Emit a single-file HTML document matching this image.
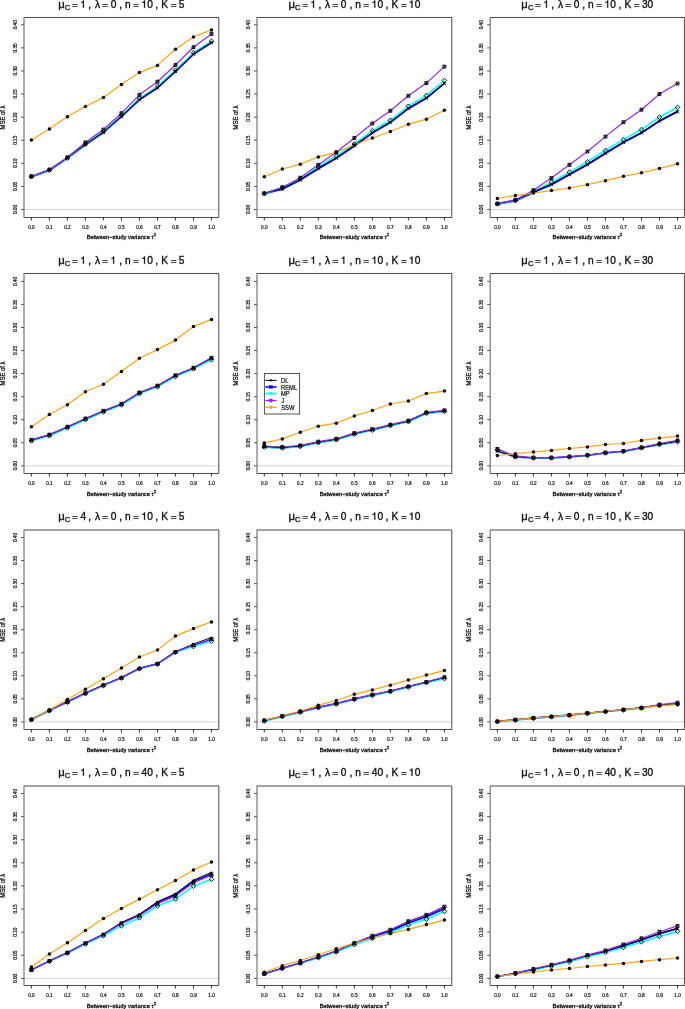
<!DOCTYPE html>
<html><head><meta charset="utf-8"><title>MSE of lambda</title>
<style>
html,body{margin:0;padding:0;background:#fff;}
svg{display:block;will-change:transform;}
text{font-family:"Liberation Sans", sans-serif;fill:#111;stroke:#111;stroke-width:0.2px;}
.xl{font-size:4.7px;text-anchor:middle;stroke-width:0.2px;}
.yl{font-size:4.7px;text-anchor:middle;stroke-width:0.2px;}
.xt{font-size:5.8px;text-anchor:middle;stroke-width:0.3px;}
.yt{font-size:5.9px;text-anchor:middle;stroke-width:0.25px;}
.lg{font-size:5.8px;}
</style></head>
<body>
<svg width="685" height="1009" viewBox="0 0 685 1009">
<rect width="685" height="1009" fill="#fff"/>
<line x1="24" y1="209.5" x2="218.8" y2="209.5" stroke="#d0d0dc" stroke-width="1"/>
<polyline points="31.4,176.9 49.41,170.5 67.42,158.4 85.43,144.8 103.44,132.5 121.45,116.7 139.46,99.9 157.47,88 175.48,71.6 193.49,54.3 211.5,42.8" fill="none" stroke="#0000ff" stroke-width="1.6" stroke-linejoin="round"/>
<polyline points="31.4,176.7 49.41,170.2 67.42,158 85.43,144 103.44,131.5 121.45,115.5 139.46,98.3 157.47,86.4 175.48,70.2 193.49,52.7 211.5,41.2" fill="none" stroke="#00ffff" stroke-width="1.6" stroke-linejoin="round"/>
<polyline points="31.4,176.3 49.41,169.9 67.42,157.8 85.43,144.2 103.44,131.9 121.45,116.1 139.46,99.3 157.47,87.4 175.48,71 193.49,53.7 211.5,42.2" fill="none" stroke="#000000" stroke-width="1.0" stroke-linejoin="round"/>
<polyline points="31.4,176.2 49.41,169.5 67.42,157.3 85.43,142.4 103.44,129.5 121.45,113.2 139.46,94.8 157.47,81.7 175.48,65 193.49,47.2 211.5,33.9" fill="none" stroke="#a020f0" stroke-width="1.2" stroke-linejoin="round"/>
<polyline points="31.4,140 49.41,129.1 67.42,116.8 85.43,106.5 103.44,97.4 121.45,84.5 139.46,72.6 157.47,65.4 175.48,49.3 193.49,37 211.5,29.9" fill="none" stroke="#ffa500" stroke-width="1.2" stroke-linejoin="round"/>
<path d="M29.9 175.4L32.9 178.4M32.9 175.4L29.9 178.4" stroke="#000" stroke-width="1.0"/>
<path d="M47.91 169L50.91 172M50.91 169L47.91 172" stroke="#000" stroke-width="1.0"/>
<path d="M65.92 156.9L68.92 159.9M68.92 156.9L65.92 159.9" stroke="#000" stroke-width="1.0"/>
<path d="M83.93 143.3L86.93 146.3M86.93 143.3L83.93 146.3" stroke="#000" stroke-width="1.0"/>
<path d="M101.94 131L104.94 134M104.94 131L101.94 134" stroke="#000" stroke-width="1.0"/>
<path d="M119.95 115.2L122.95 118.2M122.95 115.2L119.95 118.2" stroke="#000" stroke-width="1.0"/>
<path d="M137.96 98.4L140.96 101.4M140.96 98.4L137.96 101.4" stroke="#000" stroke-width="1.0"/>
<path d="M155.97 86.5L158.97 89.5M158.97 86.5L155.97 89.5" stroke="#000" stroke-width="1.0"/>
<path d="M173.98 70.1L176.98 73.1M176.98 70.1L173.98 73.1" stroke="#000" stroke-width="1.0"/>
<path d="M191.99 52.8L194.99 55.8M194.99 52.8L191.99 55.8" stroke="#000" stroke-width="1.0"/>
<path d="M210 41.3L213 44.3M213 41.3L210 44.3" stroke="#000" stroke-width="1.0"/>
<path d="M31.4 174.4L33.7 176.7L31.4 179L29.1 176.7Z" fill="none" stroke="#000" stroke-width="0.9"/>
<path d="M49.41 167.9L51.71 170.2L49.41 172.5L47.11 170.2Z" fill="none" stroke="#000" stroke-width="0.9"/>
<path d="M67.42 155.7L69.72 158L67.42 160.3L65.12 158Z" fill="none" stroke="#000" stroke-width="0.9"/>
<path d="M85.43 141.7L87.73 144L85.43 146.3L83.13 144Z" fill="none" stroke="#000" stroke-width="0.9"/>
<path d="M103.44 129.2L105.74 131.5L103.44 133.8L101.14 131.5Z" fill="none" stroke="#000" stroke-width="0.9"/>
<path d="M121.45 113.2L123.75 115.5L121.45 117.8L119.15 115.5Z" fill="none" stroke="#000" stroke-width="0.9"/>
<path d="M139.46 96L141.76 98.3L139.46 100.6L137.16 98.3Z" fill="none" stroke="#000" stroke-width="0.9"/>
<path d="M157.47 84.1L159.77 86.4L157.47 88.7L155.17 86.4Z" fill="none" stroke="#000" stroke-width="0.9"/>
<path d="M175.48 67.9L177.78 70.2L175.48 72.5L173.18 70.2Z" fill="none" stroke="#000" stroke-width="0.9"/>
<path d="M193.49 50.4L195.79 52.7L193.49 55L191.19 52.7Z" fill="none" stroke="#000" stroke-width="0.9"/>
<path d="M211.5 38.9L213.8 41.2L211.5 43.5L209.2 41.2Z" fill="none" stroke="#000" stroke-width="0.9"/>
<circle cx="31.4" cy="176.3" r="0.9" fill="#000"/>
<circle cx="49.41" cy="169.9" r="0.9" fill="#000"/>
<circle cx="67.42" cy="157.8" r="0.9" fill="#000"/>
<circle cx="85.43" cy="144.2" r="0.9" fill="#000"/>
<circle cx="103.44" cy="131.9" r="0.9" fill="#000"/>
<circle cx="121.45" cy="116.1" r="0.9" fill="#000"/>
<circle cx="139.46" cy="99.3" r="0.9" fill="#000"/>
<circle cx="157.47" cy="87.4" r="0.9" fill="#000"/>
<circle cx="175.48" cy="71" r="0.9" fill="#000"/>
<circle cx="193.49" cy="53.7" r="0.9" fill="#000"/>
<circle cx="211.5" cy="42.2" r="0.9" fill="#000"/>
<path d="M29.95 174.75H32.85V177.65H29.95ZM29.95 174.75L32.85 177.65M32.85 174.75L29.95 177.65" fill="none" stroke="#000" stroke-width="0.9"/>
<path d="M47.96 168.05H50.86V170.95H47.96ZM47.96 168.05L50.86 170.95M50.86 168.05L47.96 170.95" fill="none" stroke="#000" stroke-width="0.9"/>
<path d="M65.97 155.85H68.87V158.75H65.97ZM65.97 155.85L68.87 158.75M68.87 155.85L65.97 158.75" fill="none" stroke="#000" stroke-width="0.9"/>
<path d="M83.98 140.95H86.88V143.85H83.98ZM83.98 140.95L86.88 143.85M86.88 140.95L83.98 143.85" fill="none" stroke="#000" stroke-width="0.9"/>
<path d="M101.99 128.05H104.89V130.95H101.99ZM101.99 128.05L104.89 130.95M104.89 128.05L101.99 130.95" fill="none" stroke="#000" stroke-width="0.9"/>
<path d="M120 111.75H122.9V114.65H120ZM120 111.75L122.9 114.65M122.9 111.75L120 114.65" fill="none" stroke="#000" stroke-width="0.9"/>
<path d="M138.01 93.35H140.91V96.25H138.01ZM138.01 93.35L140.91 96.25M140.91 93.35L138.01 96.25" fill="none" stroke="#000" stroke-width="0.9"/>
<path d="M156.02 80.25H158.92V83.15H156.02ZM156.02 80.25L158.92 83.15M158.92 80.25L156.02 83.15" fill="none" stroke="#000" stroke-width="0.9"/>
<path d="M174.03 63.55H176.93V66.45H174.03ZM174.03 63.55L176.93 66.45M176.93 63.55L174.03 66.45" fill="none" stroke="#000" stroke-width="0.9"/>
<path d="M192.04 45.75H194.94V48.65H192.04ZM192.04 45.75L194.94 48.65M194.94 45.75L192.04 48.65" fill="none" stroke="#000" stroke-width="0.9"/>
<path d="M210.05 32.45H212.95V35.35H210.05ZM210.05 32.45L212.95 35.35M212.95 32.45L210.05 35.35" fill="none" stroke="#000" stroke-width="0.9"/>
<circle cx="31.4" cy="140" r="1.75" fill="#000"/>
<circle cx="49.41" cy="129.1" r="1.75" fill="#000"/>
<circle cx="67.42" cy="116.8" r="1.75" fill="#000"/>
<circle cx="85.43" cy="106.5" r="1.75" fill="#000"/>
<circle cx="103.44" cy="97.4" r="1.75" fill="#000"/>
<circle cx="121.45" cy="84.5" r="1.75" fill="#000"/>
<circle cx="139.46" cy="72.6" r="1.75" fill="#000"/>
<circle cx="157.47" cy="65.4" r="1.75" fill="#000"/>
<circle cx="175.48" cy="49.3" r="1.75" fill="#000"/>
<circle cx="193.49" cy="37" r="1.75" fill="#000"/>
<circle cx="211.5" cy="29.9" r="1.75" fill="#000"/>
<path d="M24 17.5H218.8V217.5H24" fill="none" stroke="#4a4a4a" stroke-width="1.0"/>
<line x1="24" y1="17" x2="24" y2="218" stroke="#8a8a8a" stroke-width="1.4"/>
<line x1="31.4" y1="217.5" x2="31.4" y2="220.5" stroke="#333" stroke-width="1"/>
<text class="xl" x="31.4" y="228.6">0.0</text>
<line x1="49.41" y1="217.5" x2="49.41" y2="220.5" stroke="#333" stroke-width="1"/>
<text class="xl" x="49.41" y="228.6">0.1</text>
<line x1="67.42" y1="217.5" x2="67.42" y2="220.5" stroke="#333" stroke-width="1"/>
<text class="xl" x="67.42" y="228.6">0.2</text>
<line x1="85.43" y1="217.5" x2="85.43" y2="220.5" stroke="#333" stroke-width="1"/>
<text class="xl" x="85.43" y="228.6">0.3</text>
<line x1="103.44" y1="217.5" x2="103.44" y2="220.5" stroke="#333" stroke-width="1"/>
<text class="xl" x="103.44" y="228.6">0.4</text>
<line x1="121.45" y1="217.5" x2="121.45" y2="220.5" stroke="#333" stroke-width="1"/>
<text class="xl" x="121.45" y="228.6">0.5</text>
<line x1="139.46" y1="217.5" x2="139.46" y2="220.5" stroke="#333" stroke-width="1"/>
<text class="xl" x="139.46" y="228.6">0.6</text>
<line x1="157.47" y1="217.5" x2="157.47" y2="220.5" stroke="#333" stroke-width="1"/>
<text class="xl" x="157.47" y="228.6">0.7</text>
<line x1="175.48" y1="217.5" x2="175.48" y2="220.5" stroke="#333" stroke-width="1"/>
<text class="xl" x="175.48" y="228.6">0.8</text>
<line x1="193.49" y1="217.5" x2="193.49" y2="220.5" stroke="#333" stroke-width="1"/>
<text class="xl" x="193.49" y="228.6">0.9</text>
<line x1="211.5" y1="217.5" x2="211.5" y2="220.5" stroke="#333" stroke-width="1"/>
<text class="xl" x="211.5" y="228.6">1.0</text>
<line x1="21" y1="209.5" x2="24" y2="209.5" stroke="#555" stroke-width="1"/>
<text class="yl" transform="translate(16.7,209.5) rotate(-90)">0.00</text>
<line x1="21" y1="186.41" x2="24" y2="186.41" stroke="#555" stroke-width="1"/>
<text class="yl" transform="translate(16.7,186.41) rotate(-90)">0.05</text>
<line x1="21" y1="163.32" x2="24" y2="163.32" stroke="#555" stroke-width="1"/>
<text class="yl" transform="translate(16.7,163.32) rotate(-90)">0.10</text>
<line x1="21" y1="140.24" x2="24" y2="140.24" stroke="#555" stroke-width="1"/>
<text class="yl" transform="translate(16.7,140.24) rotate(-90)">0.15</text>
<line x1="21" y1="117.15" x2="24" y2="117.15" stroke="#555" stroke-width="1"/>
<text class="yl" transform="translate(16.7,117.15) rotate(-90)">0.20</text>
<line x1="21" y1="94.06" x2="24" y2="94.06" stroke="#555" stroke-width="1"/>
<text class="yl" transform="translate(16.7,94.06) rotate(-90)">0.25</text>
<line x1="21" y1="70.97" x2="24" y2="70.97" stroke="#555" stroke-width="1"/>
<text class="yl" transform="translate(16.7,70.97) rotate(-90)">0.30</text>
<line x1="21" y1="47.89" x2="24" y2="47.89" stroke="#555" stroke-width="1"/>
<text class="yl" transform="translate(16.7,47.89) rotate(-90)">0.35</text>
<line x1="21" y1="24.8" x2="24" y2="24.8" stroke="#555" stroke-width="1"/>
<text class="yl" transform="translate(16.7,24.8) rotate(-90)">0.40</text>
<text class="xt" transform="translate(121.4,239.4) scale(1,1.0)">Between−study variance τ<tspan dy="-3" font-size="4.1">2</tspan></text>
<text class="yt" transform="translate(4.9,117.5) rotate(-90) scale(1,1.08)">MSE of λ</text>
<text x="58.23" y="7.7" font-size="11.3" style="stroke-width:0.35px">μ</text><text x="64.8" y="9.7" font-size="7.5" style="stroke-width:0.35px">C</text><path transform="translate(80.4,7.7) scale(10.2,-10.2)" d="M0.335 0L0.25 0L0.25 0.5L0.075 0.5L0.075 0.562C0.19 0.568 0.243 0.6 0.258 0.7L0.335 0.7Z" fill="#111" stroke="#111" stroke-width="0.35" vector-effect="non-scaling-stroke"/><text x="88.2" y="7.7" font-size="10.2" style="stroke-width:0.35px">,</text><text x="94.9" y="7.7" font-size="10.2" style="stroke-width:0.35px">λ</text><text x="110.65" y="7.7" font-size="10.2" style="stroke-width:0.35px">0</text><text x="119.2" y="7.7" font-size="10.2" style="stroke-width:0.35px">,</text><text x="125" y="7.7" font-size="10.2" style="stroke-width:0.35px">n</text><path transform="translate(141.6,7.7) scale(10.2,-10.2)" d="M0.335 0L0.25 0L0.25 0.5L0.075 0.5L0.075 0.562C0.19 0.568 0.243 0.6 0.258 0.7L0.335 0.7Z" fill="#111" stroke="#111" stroke-width="0.35" vector-effect="non-scaling-stroke"/><text x="147.27" y="7.7" font-size="10.2" style="stroke-width:0.35px">0</text><text x="155.3" y="7.7" font-size="10.2" style="stroke-width:0.35px">,</text><text x="161.3" y="7.7" font-size="10.2" style="stroke-width:0.35px">K</text><text x="178.8" y="7.7" font-size="10.2" style="stroke-width:0.35px">5</text><rect x="72.25" y="4.05" width="5.4" height="0.9" fill="#333"/><rect x="72.25" y="5.95" width="5.4" height="0.9" fill="#333"/><rect x="102.35" y="4.05" width="5.5" height="0.9" fill="#333"/><rect x="102.35" y="5.95" width="5.5" height="0.9" fill="#333"/><rect x="133.25" y="4.05" width="5.4" height="0.9" fill="#333"/><rect x="133.25" y="5.95" width="5.4" height="0.9" fill="#333"/><rect x="170.95" y="4.05" width="5.4" height="0.9" fill="#333"/><rect x="170.95" y="5.95" width="5.4" height="0.9" fill="#333"/>
<line x1="257" y1="209.5" x2="451.8" y2="209.5" stroke="#d0d0dc" stroke-width="1"/>
<polyline points="264.3,193.8 282.31,189.2 300.32,180.1 318.33,168.8 336.34,158.3 354.35,146 372.36,133.1 390.37,122.6 408.38,108.7 426.39,98.3 444.4,83.5" fill="none" stroke="#0000ff" stroke-width="1.6" stroke-linejoin="round"/>
<polyline points="264.3,193.6 282.31,188 300.32,178.9 318.33,166.8 336.34,155.9 354.35,144 372.36,130.7 390.37,120.2 408.38,106.3 426.39,95.4 444.4,80.5" fill="none" stroke="#00ffff" stroke-width="1.6" stroke-linejoin="round"/>
<polyline points="264.3,193.1 282.31,188.5 300.32,179.4 318.33,168.1 336.34,157.6 354.35,145.3 372.36,132.4 390.37,121.9 408.38,108 426.39,97.6 444.4,82.8" fill="none" stroke="#000000" stroke-width="1.0" stroke-linejoin="round"/>
<polyline points="264.3,193.3 282.31,187.2 300.32,177.7 318.33,164.8 336.34,152.3 354.35,138 372.36,123.5 390.37,110.8 408.38,95.8 426.39,83.1 444.4,66.6" fill="none" stroke="#a020f0" stroke-width="1.2" stroke-linejoin="round"/>
<polyline points="264.3,176.7 282.31,169 300.32,164.2 318.33,156.9 336.34,152.3 354.35,145 372.36,138 390.37,131.5 408.38,124.3 426.39,119.2 444.4,110.3" fill="none" stroke="#ffa500" stroke-width="1.2" stroke-linejoin="round"/>
<path d="M262.8 192.3L265.8 195.3M265.8 192.3L262.8 195.3" stroke="#000" stroke-width="1.0"/>
<path d="M280.81 187.7L283.81 190.7M283.81 187.7L280.81 190.7" stroke="#000" stroke-width="1.0"/>
<path d="M298.82 178.6L301.82 181.6M301.82 178.6L298.82 181.6" stroke="#000" stroke-width="1.0"/>
<path d="M316.83 167.3L319.83 170.3M319.83 167.3L316.83 170.3" stroke="#000" stroke-width="1.0"/>
<path d="M334.84 156.8L337.84 159.8M337.84 156.8L334.84 159.8" stroke="#000" stroke-width="1.0"/>
<path d="M352.85 144.5L355.85 147.5M355.85 144.5L352.85 147.5" stroke="#000" stroke-width="1.0"/>
<path d="M370.86 131.6L373.86 134.6M373.86 131.6L370.86 134.6" stroke="#000" stroke-width="1.0"/>
<path d="M388.87 121.1L391.87 124.1M391.87 121.1L388.87 124.1" stroke="#000" stroke-width="1.0"/>
<path d="M406.88 107.2L409.88 110.2M409.88 107.2L406.88 110.2" stroke="#000" stroke-width="1.0"/>
<path d="M424.89 96.8L427.89 99.8M427.89 96.8L424.89 99.8" stroke="#000" stroke-width="1.0"/>
<path d="M442.9 82L445.9 85M445.9 82L442.9 85" stroke="#000" stroke-width="1.0"/>
<path d="M264.3 191.3L266.6 193.6L264.3 195.9L262 193.6Z" fill="none" stroke="#000" stroke-width="0.9"/>
<path d="M282.31 185.7L284.61 188L282.31 190.3L280.01 188Z" fill="none" stroke="#000" stroke-width="0.9"/>
<path d="M300.32 176.6L302.62 178.9L300.32 181.2L298.02 178.9Z" fill="none" stroke="#000" stroke-width="0.9"/>
<path d="M318.33 164.5L320.63 166.8L318.33 169.1L316.03 166.8Z" fill="none" stroke="#000" stroke-width="0.9"/>
<path d="M336.34 153.6L338.64 155.9L336.34 158.2L334.04 155.9Z" fill="none" stroke="#000" stroke-width="0.9"/>
<path d="M354.35 141.7L356.65 144L354.35 146.3L352.05 144Z" fill="none" stroke="#000" stroke-width="0.9"/>
<path d="M372.36 128.4L374.66 130.7L372.36 133L370.06 130.7Z" fill="none" stroke="#000" stroke-width="0.9"/>
<path d="M390.37 117.9L392.67 120.2L390.37 122.5L388.07 120.2Z" fill="none" stroke="#000" stroke-width="0.9"/>
<path d="M408.38 104L410.68 106.3L408.38 108.6L406.08 106.3Z" fill="none" stroke="#000" stroke-width="0.9"/>
<path d="M426.39 93.1L428.69 95.4L426.39 97.7L424.09 95.4Z" fill="none" stroke="#000" stroke-width="0.9"/>
<path d="M444.4 78.2L446.7 80.5L444.4 82.8L442.1 80.5Z" fill="none" stroke="#000" stroke-width="0.9"/>
<circle cx="264.3" cy="193.1" r="0.9" fill="#000"/>
<circle cx="282.31" cy="188.5" r="0.9" fill="#000"/>
<circle cx="300.32" cy="179.4" r="0.9" fill="#000"/>
<circle cx="318.33" cy="168.1" r="0.9" fill="#000"/>
<circle cx="336.34" cy="157.6" r="0.9" fill="#000"/>
<circle cx="354.35" cy="145.3" r="0.9" fill="#000"/>
<circle cx="372.36" cy="132.4" r="0.9" fill="#000"/>
<circle cx="390.37" cy="121.9" r="0.9" fill="#000"/>
<circle cx="408.38" cy="108" r="0.9" fill="#000"/>
<circle cx="426.39" cy="97.6" r="0.9" fill="#000"/>
<circle cx="444.4" cy="82.8" r="0.9" fill="#000"/>
<path d="M262.85 191.85H265.75V194.75H262.85ZM262.85 191.85L265.75 194.75M265.75 191.85L262.85 194.75" fill="none" stroke="#000" stroke-width="0.9"/>
<path d="M280.86 185.75H283.76V188.65H280.86ZM280.86 185.75L283.76 188.65M283.76 185.75L280.86 188.65" fill="none" stroke="#000" stroke-width="0.9"/>
<path d="M298.87 176.25H301.77V179.15H298.87ZM298.87 176.25L301.77 179.15M301.77 176.25L298.87 179.15" fill="none" stroke="#000" stroke-width="0.9"/>
<path d="M316.88 163.35H319.78V166.25H316.88ZM316.88 163.35L319.78 166.25M319.78 163.35L316.88 166.25" fill="none" stroke="#000" stroke-width="0.9"/>
<path d="M334.89 150.85H337.79V153.75H334.89ZM334.89 150.85L337.79 153.75M337.79 150.85L334.89 153.75" fill="none" stroke="#000" stroke-width="0.9"/>
<path d="M352.9 136.55H355.8V139.45H352.9ZM352.9 136.55L355.8 139.45M355.8 136.55L352.9 139.45" fill="none" stroke="#000" stroke-width="0.9"/>
<path d="M370.91 122.05H373.81V124.95H370.91ZM370.91 122.05L373.81 124.95M373.81 122.05L370.91 124.95" fill="none" stroke="#000" stroke-width="0.9"/>
<path d="M388.92 109.35H391.82V112.25H388.92ZM388.92 109.35L391.82 112.25M391.82 109.35L388.92 112.25" fill="none" stroke="#000" stroke-width="0.9"/>
<path d="M406.93 94.35H409.83V97.25H406.93ZM406.93 94.35L409.83 97.25M409.83 94.35L406.93 97.25" fill="none" stroke="#000" stroke-width="0.9"/>
<path d="M424.94 81.65H427.84V84.55H424.94ZM424.94 81.65L427.84 84.55M427.84 81.65L424.94 84.55" fill="none" stroke="#000" stroke-width="0.9"/>
<path d="M442.95 65.15H445.85V68.05H442.95ZM442.95 65.15L445.85 68.05M445.85 65.15L442.95 68.05" fill="none" stroke="#000" stroke-width="0.9"/>
<circle cx="264.3" cy="176.7" r="1.75" fill="#000"/>
<circle cx="282.31" cy="169" r="1.75" fill="#000"/>
<circle cx="300.32" cy="164.2" r="1.75" fill="#000"/>
<circle cx="318.33" cy="156.9" r="1.75" fill="#000"/>
<circle cx="336.34" cy="152.3" r="1.75" fill="#000"/>
<circle cx="354.35" cy="145" r="1.75" fill="#000"/>
<circle cx="372.36" cy="138" r="1.75" fill="#000"/>
<circle cx="390.37" cy="131.5" r="1.75" fill="#000"/>
<circle cx="408.38" cy="124.3" r="1.75" fill="#000"/>
<circle cx="426.39" cy="119.2" r="1.75" fill="#000"/>
<circle cx="444.4" cy="110.3" r="1.75" fill="#000"/>
<path d="M257 17.5H451.8V217.5H257" fill="none" stroke="#4a4a4a" stroke-width="1.0"/>
<line x1="257" y1="17" x2="257" y2="218" stroke="#8a8a8a" stroke-width="1.4"/>
<line x1="264.3" y1="217.5" x2="264.3" y2="220.5" stroke="#333" stroke-width="1"/>
<text class="xl" x="264.3" y="228.6">0.0</text>
<line x1="282.31" y1="217.5" x2="282.31" y2="220.5" stroke="#333" stroke-width="1"/>
<text class="xl" x="282.31" y="228.6">0.1</text>
<line x1="300.32" y1="217.5" x2="300.32" y2="220.5" stroke="#333" stroke-width="1"/>
<text class="xl" x="300.32" y="228.6">0.2</text>
<line x1="318.33" y1="217.5" x2="318.33" y2="220.5" stroke="#333" stroke-width="1"/>
<text class="xl" x="318.33" y="228.6">0.3</text>
<line x1="336.34" y1="217.5" x2="336.34" y2="220.5" stroke="#333" stroke-width="1"/>
<text class="xl" x="336.34" y="228.6">0.4</text>
<line x1="354.35" y1="217.5" x2="354.35" y2="220.5" stroke="#333" stroke-width="1"/>
<text class="xl" x="354.35" y="228.6">0.5</text>
<line x1="372.36" y1="217.5" x2="372.36" y2="220.5" stroke="#333" stroke-width="1"/>
<text class="xl" x="372.36" y="228.6">0.6</text>
<line x1="390.37" y1="217.5" x2="390.37" y2="220.5" stroke="#333" stroke-width="1"/>
<text class="xl" x="390.37" y="228.6">0.7</text>
<line x1="408.38" y1="217.5" x2="408.38" y2="220.5" stroke="#333" stroke-width="1"/>
<text class="xl" x="408.38" y="228.6">0.8</text>
<line x1="426.39" y1="217.5" x2="426.39" y2="220.5" stroke="#333" stroke-width="1"/>
<text class="xl" x="426.39" y="228.6">0.9</text>
<line x1="444.4" y1="217.5" x2="444.4" y2="220.5" stroke="#333" stroke-width="1"/>
<text class="xl" x="444.4" y="228.6">1.0</text>
<line x1="254" y1="209.5" x2="257" y2="209.5" stroke="#555" stroke-width="1"/>
<text class="yl" transform="translate(249.7,209.5) rotate(-90)">0.00</text>
<line x1="254" y1="186.41" x2="257" y2="186.41" stroke="#555" stroke-width="1"/>
<text class="yl" transform="translate(249.7,186.41) rotate(-90)">0.05</text>
<line x1="254" y1="163.32" x2="257" y2="163.32" stroke="#555" stroke-width="1"/>
<text class="yl" transform="translate(249.7,163.32) rotate(-90)">0.10</text>
<line x1="254" y1="140.24" x2="257" y2="140.24" stroke="#555" stroke-width="1"/>
<text class="yl" transform="translate(249.7,140.24) rotate(-90)">0.15</text>
<line x1="254" y1="117.15" x2="257" y2="117.15" stroke="#555" stroke-width="1"/>
<text class="yl" transform="translate(249.7,117.15) rotate(-90)">0.20</text>
<line x1="254" y1="94.06" x2="257" y2="94.06" stroke="#555" stroke-width="1"/>
<text class="yl" transform="translate(249.7,94.06) rotate(-90)">0.25</text>
<line x1="254" y1="70.97" x2="257" y2="70.97" stroke="#555" stroke-width="1"/>
<text class="yl" transform="translate(249.7,70.97) rotate(-90)">0.30</text>
<line x1="254" y1="47.89" x2="257" y2="47.89" stroke="#555" stroke-width="1"/>
<text class="yl" transform="translate(249.7,47.89) rotate(-90)">0.35</text>
<line x1="254" y1="24.8" x2="257" y2="24.8" stroke="#555" stroke-width="1"/>
<text class="yl" transform="translate(249.7,24.8) rotate(-90)">0.40</text>
<text class="xt" transform="translate(354.4,239.4) scale(1,1.0)">Between−study variance τ<tspan dy="-3" font-size="4.1">2</tspan></text>
<text class="yt" transform="translate(237.9,117.5) rotate(-90) scale(1,1.08)">MSE of λ</text>
<text x="288.43" y="7.7" font-size="11.3" style="stroke-width:0.35px">μ</text><text x="295" y="9.7" font-size="7.5" style="stroke-width:0.35px">C</text><path transform="translate(310.6,7.7) scale(10.2,-10.2)" d="M0.335 0L0.25 0L0.25 0.5L0.075 0.5L0.075 0.562C0.19 0.568 0.243 0.6 0.258 0.7L0.335 0.7Z" fill="#111" stroke="#111" stroke-width="0.35" vector-effect="non-scaling-stroke"/><text x="318.4" y="7.7" font-size="10.2" style="stroke-width:0.35px">,</text><text x="325.1" y="7.7" font-size="10.2" style="stroke-width:0.35px">λ</text><text x="340.85" y="7.7" font-size="10.2" style="stroke-width:0.35px">0</text><text x="349.4" y="7.7" font-size="10.2" style="stroke-width:0.35px">,</text><text x="355.2" y="7.7" font-size="10.2" style="stroke-width:0.35px">n</text><path transform="translate(371.8,7.7) scale(10.2,-10.2)" d="M0.335 0L0.25 0L0.25 0.5L0.075 0.5L0.075 0.562C0.19 0.568 0.243 0.6 0.258 0.7L0.335 0.7Z" fill="#111" stroke="#111" stroke-width="0.35" vector-effect="non-scaling-stroke"/><text x="377.47" y="7.7" font-size="10.2" style="stroke-width:0.35px">0</text><text x="385.5" y="7.7" font-size="10.2" style="stroke-width:0.35px">,</text><text x="391.5" y="7.7" font-size="10.2" style="stroke-width:0.35px">K</text><path transform="translate(409,7.7) scale(10.2,-10.2)" d="M0.335 0L0.25 0L0.25 0.5L0.075 0.5L0.075 0.562C0.19 0.568 0.243 0.6 0.258 0.7L0.335 0.7Z" fill="#111" stroke="#111" stroke-width="0.35" vector-effect="non-scaling-stroke"/><text x="414.67" y="7.7" font-size="10.2" style="stroke-width:0.35px">0</text><rect x="302.45" y="4.05" width="5.4" height="0.9" fill="#333"/><rect x="302.45" y="5.95" width="5.4" height="0.9" fill="#333"/><rect x="332.55" y="4.05" width="5.5" height="0.9" fill="#333"/><rect x="332.55" y="5.95" width="5.5" height="0.9" fill="#333"/><rect x="363.45" y="4.05" width="5.4" height="0.9" fill="#333"/><rect x="363.45" y="5.95" width="5.4" height="0.9" fill="#333"/><rect x="401.15" y="4.05" width="5.4" height="0.9" fill="#333"/><rect x="401.15" y="5.95" width="5.4" height="0.9" fill="#333"/>
<line x1="490.2" y1="209.5" x2="684.4" y2="209.5" stroke="#d0d0dc" stroke-width="1"/>
<polyline points="497.4,204.1 515.41,201 533.42,192.6 551.43,184.7 569.44,174.7 587.45,164.8 605.46,153.5 623.47,142.6 641.48,133.1 659.49,121.2 677.5,111.8" fill="none" stroke="#0000ff" stroke-width="1.6" stroke-linejoin="round"/>
<polyline points="497.4,203.9 515.41,200.5 533.42,191.6 551.43,182.1 569.44,172.2 587.45,161.8 605.46,150.5 623.47,139.6 641.48,129.5 659.49,117.2 677.5,107.3" fill="none" stroke="#00ffff" stroke-width="1.6" stroke-linejoin="round"/>
<polyline points="497.4,203.3 515.41,200.2 533.42,191.8 551.43,183.9 569.44,173.9 587.45,164 605.46,152.7 623.47,141.8 641.48,132.3 659.49,120.4 677.5,111" fill="none" stroke="#000000" stroke-width="1.0" stroke-linejoin="round"/>
<polyline points="497.4,203.6 515.41,199.7 533.42,190.2 551.43,178.1 569.44,164.8 587.45,151.5 605.46,136.6 623.47,122.2 641.48,109.7 659.49,94 677.5,83.5" fill="none" stroke="#a020f0" stroke-width="1.2" stroke-linejoin="round"/>
<polyline points="497.4,198.5 515.41,195.6 533.42,193 551.43,190.6 569.44,188 587.45,184.7 605.46,180.7 623.47,176.3 641.48,172.8 659.49,168.4 677.5,163.8" fill="none" stroke="#ffa500" stroke-width="1.2" stroke-linejoin="round"/>
<path d="M495.9 202.6L498.9 205.6M498.9 202.6L495.9 205.6" stroke="#000" stroke-width="1.0"/>
<path d="M513.91 199.5L516.91 202.5M516.91 199.5L513.91 202.5" stroke="#000" stroke-width="1.0"/>
<path d="M531.92 191.1L534.92 194.1M534.92 191.1L531.92 194.1" stroke="#000" stroke-width="1.0"/>
<path d="M549.93 183.2L552.93 186.2M552.93 183.2L549.93 186.2" stroke="#000" stroke-width="1.0"/>
<path d="M567.94 173.2L570.94 176.2M570.94 173.2L567.94 176.2" stroke="#000" stroke-width="1.0"/>
<path d="M585.95 163.3L588.95 166.3M588.95 163.3L585.95 166.3" stroke="#000" stroke-width="1.0"/>
<path d="M603.96 152L606.96 155M606.96 152L603.96 155" stroke="#000" stroke-width="1.0"/>
<path d="M621.97 141.1L624.97 144.1M624.97 141.1L621.97 144.1" stroke="#000" stroke-width="1.0"/>
<path d="M639.98 131.6L642.98 134.6M642.98 131.6L639.98 134.6" stroke="#000" stroke-width="1.0"/>
<path d="M657.99 119.7L660.99 122.7M660.99 119.7L657.99 122.7" stroke="#000" stroke-width="1.0"/>
<path d="M676 110.3L679 113.3M679 110.3L676 113.3" stroke="#000" stroke-width="1.0"/>
<path d="M497.4 201.6L499.7 203.9L497.4 206.2L495.1 203.9Z" fill="none" stroke="#000" stroke-width="0.9"/>
<path d="M515.41 198.2L517.71 200.5L515.41 202.8L513.11 200.5Z" fill="none" stroke="#000" stroke-width="0.9"/>
<path d="M533.42 189.3L535.72 191.6L533.42 193.9L531.12 191.6Z" fill="none" stroke="#000" stroke-width="0.9"/>
<path d="M551.43 179.8L553.73 182.1L551.43 184.4L549.13 182.1Z" fill="none" stroke="#000" stroke-width="0.9"/>
<path d="M569.44 169.9L571.74 172.2L569.44 174.5L567.14 172.2Z" fill="none" stroke="#000" stroke-width="0.9"/>
<path d="M587.45 159.5L589.75 161.8L587.45 164.1L585.15 161.8Z" fill="none" stroke="#000" stroke-width="0.9"/>
<path d="M605.46 148.2L607.76 150.5L605.46 152.8L603.16 150.5Z" fill="none" stroke="#000" stroke-width="0.9"/>
<path d="M623.47 137.3L625.77 139.6L623.47 141.9L621.17 139.6Z" fill="none" stroke="#000" stroke-width="0.9"/>
<path d="M641.48 127.2L643.78 129.5L641.48 131.8L639.18 129.5Z" fill="none" stroke="#000" stroke-width="0.9"/>
<path d="M659.49 114.9L661.79 117.2L659.49 119.5L657.19 117.2Z" fill="none" stroke="#000" stroke-width="0.9"/>
<path d="M677.5 105L679.8 107.3L677.5 109.6L675.2 107.3Z" fill="none" stroke="#000" stroke-width="0.9"/>
<circle cx="497.4" cy="203.3" r="0.9" fill="#000"/>
<circle cx="515.41" cy="200.2" r="0.9" fill="#000"/>
<circle cx="533.42" cy="191.8" r="0.9" fill="#000"/>
<circle cx="551.43" cy="183.9" r="0.9" fill="#000"/>
<circle cx="569.44" cy="173.9" r="0.9" fill="#000"/>
<circle cx="587.45" cy="164" r="0.9" fill="#000"/>
<circle cx="605.46" cy="152.7" r="0.9" fill="#000"/>
<circle cx="623.47" cy="141.8" r="0.9" fill="#000"/>
<circle cx="641.48" cy="132.3" r="0.9" fill="#000"/>
<circle cx="659.49" cy="120.4" r="0.9" fill="#000"/>
<circle cx="677.5" cy="111" r="0.9" fill="#000"/>
<path d="M495.95 202.15H498.85V205.05H495.95ZM495.95 202.15L498.85 205.05M498.85 202.15L495.95 205.05" fill="none" stroke="#000" stroke-width="0.9"/>
<path d="M513.96 198.25H516.86V201.15H513.96ZM513.96 198.25L516.86 201.15M516.86 198.25L513.96 201.15" fill="none" stroke="#000" stroke-width="0.9"/>
<path d="M531.97 188.75H534.87V191.65H531.97ZM531.97 188.75L534.87 191.65M534.87 188.75L531.97 191.65" fill="none" stroke="#000" stroke-width="0.9"/>
<path d="M549.98 176.65H552.88V179.55H549.98ZM549.98 176.65L552.88 179.55M552.88 176.65L549.98 179.55" fill="none" stroke="#000" stroke-width="0.9"/>
<path d="M567.99 163.35H570.89V166.25H567.99ZM567.99 163.35L570.89 166.25M570.89 163.35L567.99 166.25" fill="none" stroke="#000" stroke-width="0.9"/>
<path d="M586 150.05H588.9V152.95H586ZM586 150.05L588.9 152.95M588.9 150.05L586 152.95" fill="none" stroke="#000" stroke-width="0.9"/>
<path d="M604.01 135.15H606.91V138.05H604.01ZM604.01 135.15L606.91 138.05M606.91 135.15L604.01 138.05" fill="none" stroke="#000" stroke-width="0.9"/>
<path d="M622.02 120.75H624.92V123.65H622.02ZM622.02 120.75L624.92 123.65M624.92 120.75L622.02 123.65" fill="none" stroke="#000" stroke-width="0.9"/>
<path d="M640.03 108.25H642.93V111.15H640.03ZM640.03 108.25L642.93 111.15M642.93 108.25L640.03 111.15" fill="none" stroke="#000" stroke-width="0.9"/>
<path d="M658.04 92.55H660.94V95.45H658.04ZM658.04 92.55L660.94 95.45M660.94 92.55L658.04 95.45" fill="none" stroke="#000" stroke-width="0.9"/>
<path d="M676.05 82.05H678.95V84.95H676.05ZM676.05 82.05L678.95 84.95M678.95 82.05L676.05 84.95" fill="none" stroke="#000" stroke-width="0.9"/>
<circle cx="497.4" cy="198.5" r="1.75" fill="#000"/>
<circle cx="515.41" cy="195.6" r="1.75" fill="#000"/>
<circle cx="533.42" cy="193" r="1.75" fill="#000"/>
<circle cx="551.43" cy="190.6" r="1.75" fill="#000"/>
<circle cx="569.44" cy="188" r="1.75" fill="#000"/>
<circle cx="587.45" cy="184.7" r="1.75" fill="#000"/>
<circle cx="605.46" cy="180.7" r="1.75" fill="#000"/>
<circle cx="623.47" cy="176.3" r="1.75" fill="#000"/>
<circle cx="641.48" cy="172.8" r="1.75" fill="#000"/>
<circle cx="659.49" cy="168.4" r="1.75" fill="#000"/>
<circle cx="677.5" cy="163.8" r="1.75" fill="#000"/>
<path d="M490.2 17.5H684.4V217.5H490.2" fill="none" stroke="#4a4a4a" stroke-width="1.0"/>
<line x1="490.2" y1="17" x2="490.2" y2="218" stroke="#8a8a8a" stroke-width="1.4"/>
<line x1="497.4" y1="217.5" x2="497.4" y2="220.5" stroke="#333" stroke-width="1"/>
<text class="xl" x="497.4" y="228.6">0.0</text>
<line x1="515.41" y1="217.5" x2="515.41" y2="220.5" stroke="#333" stroke-width="1"/>
<text class="xl" x="515.41" y="228.6">0.1</text>
<line x1="533.42" y1="217.5" x2="533.42" y2="220.5" stroke="#333" stroke-width="1"/>
<text class="xl" x="533.42" y="228.6">0.2</text>
<line x1="551.43" y1="217.5" x2="551.43" y2="220.5" stroke="#333" stroke-width="1"/>
<text class="xl" x="551.43" y="228.6">0.3</text>
<line x1="569.44" y1="217.5" x2="569.44" y2="220.5" stroke="#333" stroke-width="1"/>
<text class="xl" x="569.44" y="228.6">0.4</text>
<line x1="587.45" y1="217.5" x2="587.45" y2="220.5" stroke="#333" stroke-width="1"/>
<text class="xl" x="587.45" y="228.6">0.5</text>
<line x1="605.46" y1="217.5" x2="605.46" y2="220.5" stroke="#333" stroke-width="1"/>
<text class="xl" x="605.46" y="228.6">0.6</text>
<line x1="623.47" y1="217.5" x2="623.47" y2="220.5" stroke="#333" stroke-width="1"/>
<text class="xl" x="623.47" y="228.6">0.7</text>
<line x1="641.48" y1="217.5" x2="641.48" y2="220.5" stroke="#333" stroke-width="1"/>
<text class="xl" x="641.48" y="228.6">0.8</text>
<line x1="659.49" y1="217.5" x2="659.49" y2="220.5" stroke="#333" stroke-width="1"/>
<text class="xl" x="659.49" y="228.6">0.9</text>
<line x1="677.5" y1="217.5" x2="677.5" y2="220.5" stroke="#333" stroke-width="1"/>
<text class="xl" x="677.5" y="228.6">1.0</text>
<line x1="487.2" y1="209.5" x2="490.2" y2="209.5" stroke="#555" stroke-width="1"/>
<text class="yl" transform="translate(482.9,209.5) rotate(-90)">0.00</text>
<line x1="487.2" y1="186.41" x2="490.2" y2="186.41" stroke="#555" stroke-width="1"/>
<text class="yl" transform="translate(482.9,186.41) rotate(-90)">0.05</text>
<line x1="487.2" y1="163.32" x2="490.2" y2="163.32" stroke="#555" stroke-width="1"/>
<text class="yl" transform="translate(482.9,163.32) rotate(-90)">0.10</text>
<line x1="487.2" y1="140.24" x2="490.2" y2="140.24" stroke="#555" stroke-width="1"/>
<text class="yl" transform="translate(482.9,140.24) rotate(-90)">0.15</text>
<line x1="487.2" y1="117.15" x2="490.2" y2="117.15" stroke="#555" stroke-width="1"/>
<text class="yl" transform="translate(482.9,117.15) rotate(-90)">0.20</text>
<line x1="487.2" y1="94.06" x2="490.2" y2="94.06" stroke="#555" stroke-width="1"/>
<text class="yl" transform="translate(482.9,94.06) rotate(-90)">0.25</text>
<line x1="487.2" y1="70.97" x2="490.2" y2="70.97" stroke="#555" stroke-width="1"/>
<text class="yl" transform="translate(482.9,70.97) rotate(-90)">0.30</text>
<line x1="487.2" y1="47.89" x2="490.2" y2="47.89" stroke="#555" stroke-width="1"/>
<text class="yl" transform="translate(482.9,47.89) rotate(-90)">0.35</text>
<line x1="487.2" y1="24.8" x2="490.2" y2="24.8" stroke="#555" stroke-width="1"/>
<text class="yl" transform="translate(482.9,24.8) rotate(-90)">0.40</text>
<text class="xt" transform="translate(587.3,239.4) scale(1,1.0)">Between−study variance τ<tspan dy="-3" font-size="4.1">2</tspan></text>
<text class="yt" transform="translate(471.1,117.5) rotate(-90) scale(1,1.08)">MSE of λ</text>
<text x="521.33" y="7.7" font-size="11.3" style="stroke-width:0.35px">μ</text><text x="527.9" y="9.7" font-size="7.5" style="stroke-width:0.35px">C</text><path transform="translate(543.5,7.7) scale(10.2,-10.2)" d="M0.335 0L0.25 0L0.25 0.5L0.075 0.5L0.075 0.562C0.19 0.568 0.243 0.6 0.258 0.7L0.335 0.7Z" fill="#111" stroke="#111" stroke-width="0.35" vector-effect="non-scaling-stroke"/><text x="551.3" y="7.7" font-size="10.2" style="stroke-width:0.35px">,</text><text x="558" y="7.7" font-size="10.2" style="stroke-width:0.35px">λ</text><text x="573.75" y="7.7" font-size="10.2" style="stroke-width:0.35px">0</text><text x="582.3" y="7.7" font-size="10.2" style="stroke-width:0.35px">,</text><text x="588.1" y="7.7" font-size="10.2" style="stroke-width:0.35px">n</text><path transform="translate(604.7,7.7) scale(10.2,-10.2)" d="M0.335 0L0.25 0L0.25 0.5L0.075 0.5L0.075 0.562C0.19 0.568 0.243 0.6 0.258 0.7L0.335 0.7Z" fill="#111" stroke="#111" stroke-width="0.35" vector-effect="non-scaling-stroke"/><text x="610.37" y="7.7" font-size="10.2" style="stroke-width:0.35px">0</text><text x="618.4" y="7.7" font-size="10.2" style="stroke-width:0.35px">,</text><text x="624.4" y="7.7" font-size="10.2" style="stroke-width:0.35px">K</text><text x="641.9" y="7.7" font-size="10.2" style="stroke-width:0.35px">3</text><text x="647.57" y="7.7" font-size="10.2" style="stroke-width:0.35px">0</text><rect x="535.35" y="4.05" width="5.4" height="0.9" fill="#333"/><rect x="535.35" y="5.95" width="5.4" height="0.9" fill="#333"/><rect x="565.45" y="4.05" width="5.5" height="0.9" fill="#333"/><rect x="565.45" y="5.95" width="5.5" height="0.9" fill="#333"/><rect x="596.35" y="4.05" width="5.4" height="0.9" fill="#333"/><rect x="596.35" y="5.95" width="5.4" height="0.9" fill="#333"/><rect x="634.05" y="4.05" width="5.4" height="0.9" fill="#333"/><rect x="634.05" y="5.95" width="5.4" height="0.9" fill="#333"/>
<line x1="24" y1="465.8" x2="218.8" y2="465.8" stroke="#d0d0dc" stroke-width="1"/>
<polyline points="31.4,440.3 49.41,435.1 67.42,427.2 85.43,419 103.44,411.3 121.45,404.3 139.46,393 157.47,386.1 175.48,375.8 193.49,368.2 211.5,358.3" fill="none" stroke="#0000ff" stroke-width="1.6" stroke-linejoin="round"/>
<polyline points="31.4,441 49.41,435.8 67.42,427.9 85.43,419.7 103.44,412 121.45,405 139.46,393.7 157.47,386.8 175.48,376.5 193.49,368.9 211.5,359.7" fill="none" stroke="#00ffff" stroke-width="1.6" stroke-linejoin="round"/>
<polyline points="31.4,440.2 49.41,435 67.42,427.1 85.43,418.9 103.44,411.2 121.45,404.2 139.46,392.9 157.47,386 175.48,375.7 193.49,368.1 211.5,358.2" fill="none" stroke="#000000" stroke-width="1.0" stroke-linejoin="round"/>
<polyline points="31.4,439.8 49.41,434.6 67.42,426.7 85.43,418.5 103.44,410.8 121.45,403.8 139.46,392.5 157.47,385.6 175.48,375.3 193.49,367.7 211.5,357.8" fill="none" stroke="#a020f0" stroke-width="1.2" stroke-linejoin="round"/>
<polyline points="31.4,426.8 49.41,414.5 67.42,404.7 85.43,391.8 103.44,384.3 121.45,371.6 139.46,358.3 157.47,349.6 175.48,340.1 193.49,326.6 211.5,319.4" fill="none" stroke="#ffa500" stroke-width="1.2" stroke-linejoin="round"/>
<path d="M29.9 438.8L32.9 441.8M32.9 438.8L29.9 441.8" stroke="#000" stroke-width="1.0"/>
<path d="M47.91 433.6L50.91 436.6M50.91 433.6L47.91 436.6" stroke="#000" stroke-width="1.0"/>
<path d="M65.92 425.7L68.92 428.7M68.92 425.7L65.92 428.7" stroke="#000" stroke-width="1.0"/>
<path d="M83.93 417.5L86.93 420.5M86.93 417.5L83.93 420.5" stroke="#000" stroke-width="1.0"/>
<path d="M101.94 409.8L104.94 412.8M104.94 409.8L101.94 412.8" stroke="#000" stroke-width="1.0"/>
<path d="M119.95 402.8L122.95 405.8M122.95 402.8L119.95 405.8" stroke="#000" stroke-width="1.0"/>
<path d="M137.96 391.5L140.96 394.5M140.96 391.5L137.96 394.5" stroke="#000" stroke-width="1.0"/>
<path d="M155.97 384.6L158.97 387.6M158.97 384.6L155.97 387.6" stroke="#000" stroke-width="1.0"/>
<path d="M173.98 374.3L176.98 377.3M176.98 374.3L173.98 377.3" stroke="#000" stroke-width="1.0"/>
<path d="M191.99 366.7L194.99 369.7M194.99 366.7L191.99 369.7" stroke="#000" stroke-width="1.0"/>
<path d="M210 356.8L213 359.8M213 356.8L210 359.8" stroke="#000" stroke-width="1.0"/>
<path d="M31.4 438.7L33.7 441L31.4 443.3L29.1 441Z" fill="none" stroke="#000" stroke-width="0.9"/>
<path d="M49.41 433.5L51.71 435.8L49.41 438.1L47.11 435.8Z" fill="none" stroke="#000" stroke-width="0.9"/>
<path d="M67.42 425.6L69.72 427.9L67.42 430.2L65.12 427.9Z" fill="none" stroke="#000" stroke-width="0.9"/>
<path d="M85.43 417.4L87.73 419.7L85.43 422L83.13 419.7Z" fill="none" stroke="#000" stroke-width="0.9"/>
<path d="M103.44 409.7L105.74 412L103.44 414.3L101.14 412Z" fill="none" stroke="#000" stroke-width="0.9"/>
<path d="M121.45 402.7L123.75 405L121.45 407.3L119.15 405Z" fill="none" stroke="#000" stroke-width="0.9"/>
<path d="M139.46 391.4L141.76 393.7L139.46 396L137.16 393.7Z" fill="none" stroke="#000" stroke-width="0.9"/>
<path d="M157.47 384.5L159.77 386.8L157.47 389.1L155.17 386.8Z" fill="none" stroke="#000" stroke-width="0.9"/>
<path d="M175.48 374.2L177.78 376.5L175.48 378.8L173.18 376.5Z" fill="none" stroke="#000" stroke-width="0.9"/>
<path d="M193.49 366.6L195.79 368.9L193.49 371.2L191.19 368.9Z" fill="none" stroke="#000" stroke-width="0.9"/>
<path d="M211.5 357.4L213.8 359.7L211.5 362L209.2 359.7Z" fill="none" stroke="#000" stroke-width="0.9"/>
<circle cx="31.4" cy="440.2" r="0.9" fill="#000"/>
<circle cx="49.41" cy="435" r="0.9" fill="#000"/>
<circle cx="67.42" cy="427.1" r="0.9" fill="#000"/>
<circle cx="85.43" cy="418.9" r="0.9" fill="#000"/>
<circle cx="103.44" cy="411.2" r="0.9" fill="#000"/>
<circle cx="121.45" cy="404.2" r="0.9" fill="#000"/>
<circle cx="139.46" cy="392.9" r="0.9" fill="#000"/>
<circle cx="157.47" cy="386" r="0.9" fill="#000"/>
<circle cx="175.48" cy="375.7" r="0.9" fill="#000"/>
<circle cx="193.49" cy="368.1" r="0.9" fill="#000"/>
<circle cx="211.5" cy="358.2" r="0.9" fill="#000"/>
<path d="M29.95 438.35H32.85V441.25H29.95ZM29.95 438.35L32.85 441.25M32.85 438.35L29.95 441.25" fill="none" stroke="#000" stroke-width="0.9"/>
<path d="M47.96 433.15H50.86V436.05H47.96ZM47.96 433.15L50.86 436.05M50.86 433.15L47.96 436.05" fill="none" stroke="#000" stroke-width="0.9"/>
<path d="M65.97 425.25H68.87V428.15H65.97ZM65.97 425.25L68.87 428.15M68.87 425.25L65.97 428.15" fill="none" stroke="#000" stroke-width="0.9"/>
<path d="M83.98 417.05H86.88V419.95H83.98ZM83.98 417.05L86.88 419.95M86.88 417.05L83.98 419.95" fill="none" stroke="#000" stroke-width="0.9"/>
<path d="M101.99 409.35H104.89V412.25H101.99ZM101.99 409.35L104.89 412.25M104.89 409.35L101.99 412.25" fill="none" stroke="#000" stroke-width="0.9"/>
<path d="M120 402.35H122.9V405.25H120ZM120 402.35L122.9 405.25M122.9 402.35L120 405.25" fill="none" stroke="#000" stroke-width="0.9"/>
<path d="M138.01 391.05H140.91V393.95H138.01ZM138.01 391.05L140.91 393.95M140.91 391.05L138.01 393.95" fill="none" stroke="#000" stroke-width="0.9"/>
<path d="M156.02 384.15H158.92V387.05H156.02ZM156.02 384.15L158.92 387.05M158.92 384.15L156.02 387.05" fill="none" stroke="#000" stroke-width="0.9"/>
<path d="M174.03 373.85H176.93V376.75H174.03ZM174.03 373.85L176.93 376.75M176.93 373.85L174.03 376.75" fill="none" stroke="#000" stroke-width="0.9"/>
<path d="M192.04 366.25H194.94V369.15H192.04ZM192.04 366.25L194.94 369.15M194.94 366.25L192.04 369.15" fill="none" stroke="#000" stroke-width="0.9"/>
<path d="M210.05 356.35H212.95V359.25H210.05ZM210.05 356.35L212.95 359.25M212.95 356.35L210.05 359.25" fill="none" stroke="#000" stroke-width="0.9"/>
<circle cx="31.4" cy="426.8" r="1.75" fill="#000"/>
<circle cx="49.41" cy="414.5" r="1.75" fill="#000"/>
<circle cx="67.42" cy="404.7" r="1.75" fill="#000"/>
<circle cx="85.43" cy="391.8" r="1.75" fill="#000"/>
<circle cx="103.44" cy="384.3" r="1.75" fill="#000"/>
<circle cx="121.45" cy="371.6" r="1.75" fill="#000"/>
<circle cx="139.46" cy="358.3" r="1.75" fill="#000"/>
<circle cx="157.47" cy="349.6" r="1.75" fill="#000"/>
<circle cx="175.48" cy="340.1" r="1.75" fill="#000"/>
<circle cx="193.49" cy="326.6" r="1.75" fill="#000"/>
<circle cx="211.5" cy="319.4" r="1.75" fill="#000"/>
<path d="M24 273.5H218.8V473.5H24" fill="none" stroke="#4a4a4a" stroke-width="1.0"/>
<line x1="24" y1="273" x2="24" y2="474" stroke="#8a8a8a" stroke-width="1.4"/>
<line x1="31.4" y1="473.5" x2="31.4" y2="476.5" stroke="#333" stroke-width="1"/>
<text class="xl" x="31.4" y="484.6">0.0</text>
<line x1="49.41" y1="473.5" x2="49.41" y2="476.5" stroke="#333" stroke-width="1"/>
<text class="xl" x="49.41" y="484.6">0.1</text>
<line x1="67.42" y1="473.5" x2="67.42" y2="476.5" stroke="#333" stroke-width="1"/>
<text class="xl" x="67.42" y="484.6">0.2</text>
<line x1="85.43" y1="473.5" x2="85.43" y2="476.5" stroke="#333" stroke-width="1"/>
<text class="xl" x="85.43" y="484.6">0.3</text>
<line x1="103.44" y1="473.5" x2="103.44" y2="476.5" stroke="#333" stroke-width="1"/>
<text class="xl" x="103.44" y="484.6">0.4</text>
<line x1="121.45" y1="473.5" x2="121.45" y2="476.5" stroke="#333" stroke-width="1"/>
<text class="xl" x="121.45" y="484.6">0.5</text>
<line x1="139.46" y1="473.5" x2="139.46" y2="476.5" stroke="#333" stroke-width="1"/>
<text class="xl" x="139.46" y="484.6">0.6</text>
<line x1="157.47" y1="473.5" x2="157.47" y2="476.5" stroke="#333" stroke-width="1"/>
<text class="xl" x="157.47" y="484.6">0.7</text>
<line x1="175.48" y1="473.5" x2="175.48" y2="476.5" stroke="#333" stroke-width="1"/>
<text class="xl" x="175.48" y="484.6">0.8</text>
<line x1="193.49" y1="473.5" x2="193.49" y2="476.5" stroke="#333" stroke-width="1"/>
<text class="xl" x="193.49" y="484.6">0.9</text>
<line x1="211.5" y1="473.5" x2="211.5" y2="476.5" stroke="#333" stroke-width="1"/>
<text class="xl" x="211.5" y="484.6">1.0</text>
<line x1="21" y1="465.8" x2="24" y2="465.8" stroke="#555" stroke-width="1"/>
<text class="yl" transform="translate(16.7,465.8) rotate(-90)">0.00</text>
<line x1="21" y1="442.75" x2="24" y2="442.75" stroke="#555" stroke-width="1"/>
<text class="yl" transform="translate(16.7,442.75) rotate(-90)">0.05</text>
<line x1="21" y1="419.7" x2="24" y2="419.7" stroke="#555" stroke-width="1"/>
<text class="yl" transform="translate(16.7,419.7) rotate(-90)">0.10</text>
<line x1="21" y1="396.65" x2="24" y2="396.65" stroke="#555" stroke-width="1"/>
<text class="yl" transform="translate(16.7,396.65) rotate(-90)">0.15</text>
<line x1="21" y1="373.6" x2="24" y2="373.6" stroke="#555" stroke-width="1"/>
<text class="yl" transform="translate(16.7,373.6) rotate(-90)">0.20</text>
<line x1="21" y1="350.55" x2="24" y2="350.55" stroke="#555" stroke-width="1"/>
<text class="yl" transform="translate(16.7,350.55) rotate(-90)">0.25</text>
<line x1="21" y1="327.5" x2="24" y2="327.5" stroke="#555" stroke-width="1"/>
<text class="yl" transform="translate(16.7,327.5) rotate(-90)">0.30</text>
<line x1="21" y1="304.45" x2="24" y2="304.45" stroke="#555" stroke-width="1"/>
<text class="yl" transform="translate(16.7,304.45) rotate(-90)">0.35</text>
<line x1="21" y1="281.4" x2="24" y2="281.4" stroke="#555" stroke-width="1"/>
<text class="yl" transform="translate(16.7,281.4) rotate(-90)">0.40</text>
<text class="xt" transform="translate(121.4,495.6) scale(1,1.0)">Between−study variance τ<tspan dy="-3" font-size="4.1">2</tspan></text>
<text class="yt" transform="translate(4.9,373.5) rotate(-90) scale(1,1.08)">MSE of λ</text>
<text x="58.23" y="263.7" font-size="11.3" style="stroke-width:0.35px">μ</text><text x="64.8" y="265.7" font-size="7.5" style="stroke-width:0.35px">C</text><path transform="translate(80.4,263.7) scale(10.2,-10.2)" d="M0.335 0L0.25 0L0.25 0.5L0.075 0.5L0.075 0.562C0.19 0.568 0.243 0.6 0.258 0.7L0.335 0.7Z" fill="#111" stroke="#111" stroke-width="0.35" vector-effect="non-scaling-stroke"/><text x="88.2" y="263.7" font-size="10.2" style="stroke-width:0.35px">,</text><text x="94.9" y="263.7" font-size="10.2" style="stroke-width:0.35px">λ</text><path transform="translate(110.65,263.7) scale(10.2,-10.2)" d="M0.335 0L0.25 0L0.25 0.5L0.075 0.5L0.075 0.562C0.19 0.568 0.243 0.6 0.258 0.7L0.335 0.7Z" fill="#111" stroke="#111" stroke-width="0.35" vector-effect="non-scaling-stroke"/><text x="119.2" y="263.7" font-size="10.2" style="stroke-width:0.35px">,</text><text x="125" y="263.7" font-size="10.2" style="stroke-width:0.35px">n</text><path transform="translate(141.6,263.7) scale(10.2,-10.2)" d="M0.335 0L0.25 0L0.25 0.5L0.075 0.5L0.075 0.562C0.19 0.568 0.243 0.6 0.258 0.7L0.335 0.7Z" fill="#111" stroke="#111" stroke-width="0.35" vector-effect="non-scaling-stroke"/><text x="147.27" y="263.7" font-size="10.2" style="stroke-width:0.35px">0</text><text x="155.3" y="263.7" font-size="10.2" style="stroke-width:0.35px">,</text><text x="161.3" y="263.7" font-size="10.2" style="stroke-width:0.35px">K</text><text x="178.8" y="263.7" font-size="10.2" style="stroke-width:0.35px">5</text><rect x="72.25" y="260.05" width="5.4" height="0.9" fill="#333"/><rect x="72.25" y="261.95" width="5.4" height="0.9" fill="#333"/><rect x="102.35" y="260.05" width="5.5" height="0.9" fill="#333"/><rect x="102.35" y="261.95" width="5.5" height="0.9" fill="#333"/><rect x="133.25" y="260.05" width="5.4" height="0.9" fill="#333"/><rect x="133.25" y="261.95" width="5.4" height="0.9" fill="#333"/><rect x="170.95" y="260.05" width="5.4" height="0.9" fill="#333"/><rect x="170.95" y="261.95" width="5.4" height="0.9" fill="#333"/>
<line x1="257" y1="465.8" x2="451.8" y2="465.8" stroke="#d0d0dc" stroke-width="1"/>
<polyline points="264.3,446.9 282.31,447.9 300.32,446.3 318.33,442.5 336.34,439.6 354.35,434 372.36,430 390.37,425.5 408.38,421.5 426.39,413.2 444.4,411.2" fill="none" stroke="#0000ff" stroke-width="1.6" stroke-linejoin="round"/>
<polyline points="264.3,447.1 282.31,448.1 300.32,446.5 318.33,442.7 336.34,439.8 354.35,434.2 372.36,430.2 390.37,425.7 408.38,421.7 426.39,413.4 444.4,411.4" fill="none" stroke="#00ffff" stroke-width="1.6" stroke-linejoin="round"/>
<polyline points="264.3,446.6 282.31,447.6 300.32,446 318.33,442.2 336.34,439.3 354.35,433.7 372.36,429.7 390.37,425.2 408.38,421.2 426.39,412.9 444.4,410.9" fill="none" stroke="#000000" stroke-width="1.0" stroke-linejoin="round"/>
<polyline points="264.3,446 282.31,447 300.32,445.4 318.33,441.6 336.34,438.7 354.35,433.1 372.36,429.1 390.37,424.6 408.38,420.6 426.39,412.3 444.4,410.3" fill="none" stroke="#a020f0" stroke-width="1.2" stroke-linejoin="round"/>
<polyline points="264.3,443 282.31,438.9 300.32,432.3 318.33,426.2 336.34,423.2 354.35,415.9 372.36,410.5 390.37,404 408.38,401 426.39,393.6 444.4,391.1" fill="none" stroke="#ffa500" stroke-width="1.2" stroke-linejoin="round"/>
<path d="M262.8 445.4L265.8 448.4M265.8 445.4L262.8 448.4" stroke="#000" stroke-width="1.0"/>
<path d="M280.81 446.4L283.81 449.4M283.81 446.4L280.81 449.4" stroke="#000" stroke-width="1.0"/>
<path d="M298.82 444.8L301.82 447.8M301.82 444.8L298.82 447.8" stroke="#000" stroke-width="1.0"/>
<path d="M316.83 441L319.83 444M319.83 441L316.83 444" stroke="#000" stroke-width="1.0"/>
<path d="M334.84 438.1L337.84 441.1M337.84 438.1L334.84 441.1" stroke="#000" stroke-width="1.0"/>
<path d="M352.85 432.5L355.85 435.5M355.85 432.5L352.85 435.5" stroke="#000" stroke-width="1.0"/>
<path d="M370.86 428.5L373.86 431.5M373.86 428.5L370.86 431.5" stroke="#000" stroke-width="1.0"/>
<path d="M388.87 424L391.87 427M391.87 424L388.87 427" stroke="#000" stroke-width="1.0"/>
<path d="M406.88 420L409.88 423M409.88 420L406.88 423" stroke="#000" stroke-width="1.0"/>
<path d="M424.89 411.7L427.89 414.7M427.89 411.7L424.89 414.7" stroke="#000" stroke-width="1.0"/>
<path d="M442.9 409.7L445.9 412.7M445.9 409.7L442.9 412.7" stroke="#000" stroke-width="1.0"/>
<path d="M264.3 444.8L266.6 447.1L264.3 449.4L262 447.1Z" fill="none" stroke="#000" stroke-width="0.9"/>
<path d="M282.31 445.8L284.61 448.1L282.31 450.4L280.01 448.1Z" fill="none" stroke="#000" stroke-width="0.9"/>
<path d="M300.32 444.2L302.62 446.5L300.32 448.8L298.02 446.5Z" fill="none" stroke="#000" stroke-width="0.9"/>
<path d="M318.33 440.4L320.63 442.7L318.33 445L316.03 442.7Z" fill="none" stroke="#000" stroke-width="0.9"/>
<path d="M336.34 437.5L338.64 439.8L336.34 442.1L334.04 439.8Z" fill="none" stroke="#000" stroke-width="0.9"/>
<path d="M354.35 431.9L356.65 434.2L354.35 436.5L352.05 434.2Z" fill="none" stroke="#000" stroke-width="0.9"/>
<path d="M372.36 427.9L374.66 430.2L372.36 432.5L370.06 430.2Z" fill="none" stroke="#000" stroke-width="0.9"/>
<path d="M390.37 423.4L392.67 425.7L390.37 428L388.07 425.7Z" fill="none" stroke="#000" stroke-width="0.9"/>
<path d="M408.38 419.4L410.68 421.7L408.38 424L406.08 421.7Z" fill="none" stroke="#000" stroke-width="0.9"/>
<path d="M426.39 411.1L428.69 413.4L426.39 415.7L424.09 413.4Z" fill="none" stroke="#000" stroke-width="0.9"/>
<path d="M444.4 409.1L446.7 411.4L444.4 413.7L442.1 411.4Z" fill="none" stroke="#000" stroke-width="0.9"/>
<circle cx="264.3" cy="446.6" r="0.9" fill="#000"/>
<circle cx="282.31" cy="447.6" r="0.9" fill="#000"/>
<circle cx="300.32" cy="446" r="0.9" fill="#000"/>
<circle cx="318.33" cy="442.2" r="0.9" fill="#000"/>
<circle cx="336.34" cy="439.3" r="0.9" fill="#000"/>
<circle cx="354.35" cy="433.7" r="0.9" fill="#000"/>
<circle cx="372.36" cy="429.7" r="0.9" fill="#000"/>
<circle cx="390.37" cy="425.2" r="0.9" fill="#000"/>
<circle cx="408.38" cy="421.2" r="0.9" fill="#000"/>
<circle cx="426.39" cy="412.9" r="0.9" fill="#000"/>
<circle cx="444.4" cy="410.9" r="0.9" fill="#000"/>
<path d="M262.85 444.55H265.75V447.45H262.85ZM262.85 444.55L265.75 447.45M265.75 444.55L262.85 447.45" fill="none" stroke="#000" stroke-width="0.9"/>
<path d="M280.86 445.55H283.76V448.45H280.86ZM280.86 445.55L283.76 448.45M283.76 445.55L280.86 448.45" fill="none" stroke="#000" stroke-width="0.9"/>
<path d="M298.87 443.95H301.77V446.85H298.87ZM298.87 443.95L301.77 446.85M301.77 443.95L298.87 446.85" fill="none" stroke="#000" stroke-width="0.9"/>
<path d="M316.88 440.15H319.78V443.05H316.88ZM316.88 440.15L319.78 443.05M319.78 440.15L316.88 443.05" fill="none" stroke="#000" stroke-width="0.9"/>
<path d="M334.89 437.25H337.79V440.15H334.89ZM334.89 437.25L337.79 440.15M337.79 437.25L334.89 440.15" fill="none" stroke="#000" stroke-width="0.9"/>
<path d="M352.9 431.65H355.8V434.55H352.9ZM352.9 431.65L355.8 434.55M355.8 431.65L352.9 434.55" fill="none" stroke="#000" stroke-width="0.9"/>
<path d="M370.91 427.65H373.81V430.55H370.91ZM370.91 427.65L373.81 430.55M373.81 427.65L370.91 430.55" fill="none" stroke="#000" stroke-width="0.9"/>
<path d="M388.92 423.15H391.82V426.05H388.92ZM388.92 423.15L391.82 426.05M391.82 423.15L388.92 426.05" fill="none" stroke="#000" stroke-width="0.9"/>
<path d="M406.93 419.15H409.83V422.05H406.93ZM406.93 419.15L409.83 422.05M409.83 419.15L406.93 422.05" fill="none" stroke="#000" stroke-width="0.9"/>
<path d="M424.94 410.85H427.84V413.75H424.94ZM424.94 410.85L427.84 413.75M427.84 410.85L424.94 413.75" fill="none" stroke="#000" stroke-width="0.9"/>
<path d="M442.95 408.85H445.85V411.75H442.95ZM442.95 408.85L445.85 411.75M445.85 408.85L442.95 411.75" fill="none" stroke="#000" stroke-width="0.9"/>
<circle cx="264.3" cy="443" r="1.75" fill="#000"/>
<circle cx="282.31" cy="438.9" r="1.75" fill="#000"/>
<circle cx="300.32" cy="432.3" r="1.75" fill="#000"/>
<circle cx="318.33" cy="426.2" r="1.75" fill="#000"/>
<circle cx="336.34" cy="423.2" r="1.75" fill="#000"/>
<circle cx="354.35" cy="415.9" r="1.75" fill="#000"/>
<circle cx="372.36" cy="410.5" r="1.75" fill="#000"/>
<circle cx="390.37" cy="404" r="1.75" fill="#000"/>
<circle cx="408.38" cy="401" r="1.75" fill="#000"/>
<circle cx="426.39" cy="393.6" r="1.75" fill="#000"/>
<circle cx="444.4" cy="391.1" r="1.75" fill="#000"/>
<path d="M257 273.5H451.8V473.5H257" fill="none" stroke="#4a4a4a" stroke-width="1.0"/>
<line x1="257" y1="273" x2="257" y2="474" stroke="#8a8a8a" stroke-width="1.4"/>
<line x1="264.3" y1="473.5" x2="264.3" y2="476.5" stroke="#333" stroke-width="1"/>
<text class="xl" x="264.3" y="484.6">0.0</text>
<line x1="282.31" y1="473.5" x2="282.31" y2="476.5" stroke="#333" stroke-width="1"/>
<text class="xl" x="282.31" y="484.6">0.1</text>
<line x1="300.32" y1="473.5" x2="300.32" y2="476.5" stroke="#333" stroke-width="1"/>
<text class="xl" x="300.32" y="484.6">0.2</text>
<line x1="318.33" y1="473.5" x2="318.33" y2="476.5" stroke="#333" stroke-width="1"/>
<text class="xl" x="318.33" y="484.6">0.3</text>
<line x1="336.34" y1="473.5" x2="336.34" y2="476.5" stroke="#333" stroke-width="1"/>
<text class="xl" x="336.34" y="484.6">0.4</text>
<line x1="354.35" y1="473.5" x2="354.35" y2="476.5" stroke="#333" stroke-width="1"/>
<text class="xl" x="354.35" y="484.6">0.5</text>
<line x1="372.36" y1="473.5" x2="372.36" y2="476.5" stroke="#333" stroke-width="1"/>
<text class="xl" x="372.36" y="484.6">0.6</text>
<line x1="390.37" y1="473.5" x2="390.37" y2="476.5" stroke="#333" stroke-width="1"/>
<text class="xl" x="390.37" y="484.6">0.7</text>
<line x1="408.38" y1="473.5" x2="408.38" y2="476.5" stroke="#333" stroke-width="1"/>
<text class="xl" x="408.38" y="484.6">0.8</text>
<line x1="426.39" y1="473.5" x2="426.39" y2="476.5" stroke="#333" stroke-width="1"/>
<text class="xl" x="426.39" y="484.6">0.9</text>
<line x1="444.4" y1="473.5" x2="444.4" y2="476.5" stroke="#333" stroke-width="1"/>
<text class="xl" x="444.4" y="484.6">1.0</text>
<line x1="254" y1="465.8" x2="257" y2="465.8" stroke="#555" stroke-width="1"/>
<text class="yl" transform="translate(249.7,465.8) rotate(-90)">0.00</text>
<line x1="254" y1="442.75" x2="257" y2="442.75" stroke="#555" stroke-width="1"/>
<text class="yl" transform="translate(249.7,442.75) rotate(-90)">0.05</text>
<line x1="254" y1="419.7" x2="257" y2="419.7" stroke="#555" stroke-width="1"/>
<text class="yl" transform="translate(249.7,419.7) rotate(-90)">0.10</text>
<line x1="254" y1="396.65" x2="257" y2="396.65" stroke="#555" stroke-width="1"/>
<text class="yl" transform="translate(249.7,396.65) rotate(-90)">0.15</text>
<line x1="254" y1="373.6" x2="257" y2="373.6" stroke="#555" stroke-width="1"/>
<text class="yl" transform="translate(249.7,373.6) rotate(-90)">0.20</text>
<line x1="254" y1="350.55" x2="257" y2="350.55" stroke="#555" stroke-width="1"/>
<text class="yl" transform="translate(249.7,350.55) rotate(-90)">0.25</text>
<line x1="254" y1="327.5" x2="257" y2="327.5" stroke="#555" stroke-width="1"/>
<text class="yl" transform="translate(249.7,327.5) rotate(-90)">0.30</text>
<line x1="254" y1="304.45" x2="257" y2="304.45" stroke="#555" stroke-width="1"/>
<text class="yl" transform="translate(249.7,304.45) rotate(-90)">0.35</text>
<line x1="254" y1="281.4" x2="257" y2="281.4" stroke="#555" stroke-width="1"/>
<text class="yl" transform="translate(249.7,281.4) rotate(-90)">0.40</text>
<text class="xt" transform="translate(354.4,495.6) scale(1,1.0)">Between−study variance τ<tspan dy="-3" font-size="4.1">2</tspan></text>
<text class="yt" transform="translate(237.9,373.5) rotate(-90) scale(1,1.08)">MSE of λ</text>
<text x="288.43" y="263.7" font-size="11.3" style="stroke-width:0.35px">μ</text><text x="295" y="265.7" font-size="7.5" style="stroke-width:0.35px">C</text><path transform="translate(310.6,263.7) scale(10.2,-10.2)" d="M0.335 0L0.25 0L0.25 0.5L0.075 0.5L0.075 0.562C0.19 0.568 0.243 0.6 0.258 0.7L0.335 0.7Z" fill="#111" stroke="#111" stroke-width="0.35" vector-effect="non-scaling-stroke"/><text x="318.4" y="263.7" font-size="10.2" style="stroke-width:0.35px">,</text><text x="325.1" y="263.7" font-size="10.2" style="stroke-width:0.35px">λ</text><path transform="translate(340.85,263.7) scale(10.2,-10.2)" d="M0.335 0L0.25 0L0.25 0.5L0.075 0.5L0.075 0.562C0.19 0.568 0.243 0.6 0.258 0.7L0.335 0.7Z" fill="#111" stroke="#111" stroke-width="0.35" vector-effect="non-scaling-stroke"/><text x="349.4" y="263.7" font-size="10.2" style="stroke-width:0.35px">,</text><text x="355.2" y="263.7" font-size="10.2" style="stroke-width:0.35px">n</text><path transform="translate(371.8,263.7) scale(10.2,-10.2)" d="M0.335 0L0.25 0L0.25 0.5L0.075 0.5L0.075 0.562C0.19 0.568 0.243 0.6 0.258 0.7L0.335 0.7Z" fill="#111" stroke="#111" stroke-width="0.35" vector-effect="non-scaling-stroke"/><text x="377.47" y="263.7" font-size="10.2" style="stroke-width:0.35px">0</text><text x="385.5" y="263.7" font-size="10.2" style="stroke-width:0.35px">,</text><text x="391.5" y="263.7" font-size="10.2" style="stroke-width:0.35px">K</text><path transform="translate(409,263.7) scale(10.2,-10.2)" d="M0.335 0L0.25 0L0.25 0.5L0.075 0.5L0.075 0.562C0.19 0.568 0.243 0.6 0.258 0.7L0.335 0.7Z" fill="#111" stroke="#111" stroke-width="0.35" vector-effect="non-scaling-stroke"/><text x="414.67" y="263.7" font-size="10.2" style="stroke-width:0.35px">0</text><rect x="302.45" y="260.05" width="5.4" height="0.9" fill="#333"/><rect x="302.45" y="261.95" width="5.4" height="0.9" fill="#333"/><rect x="332.55" y="260.05" width="5.5" height="0.9" fill="#333"/><rect x="332.55" y="261.95" width="5.5" height="0.9" fill="#333"/><rect x="363.45" y="260.05" width="5.4" height="0.9" fill="#333"/><rect x="363.45" y="261.95" width="5.4" height="0.9" fill="#333"/><rect x="401.15" y="260.05" width="5.4" height="0.9" fill="#333"/><rect x="401.15" y="261.95" width="5.4" height="0.9" fill="#333"/>
<line x1="490.2" y1="465.8" x2="684.4" y2="465.8" stroke="#d0d0dc" stroke-width="1"/>
<polyline points="497.4,451.1 515.41,457 533.42,458 551.43,458 569.44,457 587.45,455.5 605.46,453 623.47,451.5 641.48,447.9 659.49,444.5 677.5,441.6" fill="none" stroke="#0000ff" stroke-width="1.6" stroke-linejoin="round"/>
<polyline points="497.4,450.1 515.41,457 533.42,458 551.43,458 569.44,457 587.45,455.5 605.46,453 623.47,451.5 641.48,447.9 659.49,444.5 677.5,441.6" fill="none" stroke="#00ffff" stroke-width="1.6" stroke-linejoin="round"/>
<polyline points="497.4,451 515.41,456.8 533.42,457.8 551.43,457.8 569.44,456.8 587.45,455.3 605.46,452.8 623.47,451.3 641.48,447.7 659.49,444.3 677.5,441.4" fill="none" stroke="#000000" stroke-width="1.0" stroke-linejoin="round"/>
<polyline points="497.4,448.9 515.41,455.9 533.42,457.6 551.43,457.6 569.44,456.6 587.45,455.1 605.46,452.6 623.47,451 641.48,447.4 659.49,443.5 677.5,440.4" fill="none" stroke="#a020f0" stroke-width="1.2" stroke-linejoin="round"/>
<polyline points="497.4,455.5 515.41,453.7 533.42,452 551.43,450.4 569.44,448.5 587.45,446.9 605.46,444.5 623.47,443.5 641.48,440.4 659.49,438.1 677.5,436.1" fill="none" stroke="#ffa500" stroke-width="1.2" stroke-linejoin="round"/>
<path d="M495.9 449.6L498.9 452.6M498.9 449.6L495.9 452.6" stroke="#000" stroke-width="1.0"/>
<path d="M513.91 455.5L516.91 458.5M516.91 455.5L513.91 458.5" stroke="#000" stroke-width="1.0"/>
<path d="M531.92 456.5L534.92 459.5M534.92 456.5L531.92 459.5" stroke="#000" stroke-width="1.0"/>
<path d="M549.93 456.5L552.93 459.5M552.93 456.5L549.93 459.5" stroke="#000" stroke-width="1.0"/>
<path d="M567.94 455.5L570.94 458.5M570.94 455.5L567.94 458.5" stroke="#000" stroke-width="1.0"/>
<path d="M585.95 454L588.95 457M588.95 454L585.95 457" stroke="#000" stroke-width="1.0"/>
<path d="M603.96 451.5L606.96 454.5M606.96 451.5L603.96 454.5" stroke="#000" stroke-width="1.0"/>
<path d="M621.97 450L624.97 453M624.97 450L621.97 453" stroke="#000" stroke-width="1.0"/>
<path d="M639.98 446.4L642.98 449.4M642.98 446.4L639.98 449.4" stroke="#000" stroke-width="1.0"/>
<path d="M657.99 443L660.99 446M660.99 443L657.99 446" stroke="#000" stroke-width="1.0"/>
<path d="M676 440.1L679 443.1M679 440.1L676 443.1" stroke="#000" stroke-width="1.0"/>
<path d="M497.4 447.8L499.7 450.1L497.4 452.4L495.1 450.1Z" fill="none" stroke="#000" stroke-width="0.9"/>
<path d="M515.41 454.7L517.71 457L515.41 459.3L513.11 457Z" fill="none" stroke="#000" stroke-width="0.9"/>
<path d="M533.42 455.7L535.72 458L533.42 460.3L531.12 458Z" fill="none" stroke="#000" stroke-width="0.9"/>
<path d="M551.43 455.7L553.73 458L551.43 460.3L549.13 458Z" fill="none" stroke="#000" stroke-width="0.9"/>
<path d="M569.44 454.7L571.74 457L569.44 459.3L567.14 457Z" fill="none" stroke="#000" stroke-width="0.9"/>
<path d="M587.45 453.2L589.75 455.5L587.45 457.8L585.15 455.5Z" fill="none" stroke="#000" stroke-width="0.9"/>
<path d="M605.46 450.7L607.76 453L605.46 455.3L603.16 453Z" fill="none" stroke="#000" stroke-width="0.9"/>
<path d="M623.47 449.2L625.77 451.5L623.47 453.8L621.17 451.5Z" fill="none" stroke="#000" stroke-width="0.9"/>
<path d="M641.48 445.6L643.78 447.9L641.48 450.2L639.18 447.9Z" fill="none" stroke="#000" stroke-width="0.9"/>
<path d="M659.49 442.2L661.79 444.5L659.49 446.8L657.19 444.5Z" fill="none" stroke="#000" stroke-width="0.9"/>
<path d="M677.5 439.3L679.8 441.6L677.5 443.9L675.2 441.6Z" fill="none" stroke="#000" stroke-width="0.9"/>
<circle cx="497.4" cy="451" r="0.9" fill="#000"/>
<circle cx="515.41" cy="456.8" r="0.9" fill="#000"/>
<circle cx="533.42" cy="457.8" r="0.9" fill="#000"/>
<circle cx="551.43" cy="457.8" r="0.9" fill="#000"/>
<circle cx="569.44" cy="456.8" r="0.9" fill="#000"/>
<circle cx="587.45" cy="455.3" r="0.9" fill="#000"/>
<circle cx="605.46" cy="452.8" r="0.9" fill="#000"/>
<circle cx="623.47" cy="451.3" r="0.9" fill="#000"/>
<circle cx="641.48" cy="447.7" r="0.9" fill="#000"/>
<circle cx="659.49" cy="444.3" r="0.9" fill="#000"/>
<circle cx="677.5" cy="441.4" r="0.9" fill="#000"/>
<path d="M495.95 447.45H498.85V450.35H495.95ZM495.95 447.45L498.85 450.35M498.85 447.45L495.95 450.35" fill="none" stroke="#000" stroke-width="0.9"/>
<path d="M513.96 454.45H516.86V457.35H513.96ZM513.96 454.45L516.86 457.35M516.86 454.45L513.96 457.35" fill="none" stroke="#000" stroke-width="0.9"/>
<path d="M531.97 456.15H534.87V459.05H531.97ZM531.97 456.15L534.87 459.05M534.87 456.15L531.97 459.05" fill="none" stroke="#000" stroke-width="0.9"/>
<path d="M549.98 456.15H552.88V459.05H549.98ZM549.98 456.15L552.88 459.05M552.88 456.15L549.98 459.05" fill="none" stroke="#000" stroke-width="0.9"/>
<path d="M567.99 455.15H570.89V458.05H567.99ZM567.99 455.15L570.89 458.05M570.89 455.15L567.99 458.05" fill="none" stroke="#000" stroke-width="0.9"/>
<path d="M586 453.65H588.9V456.55H586ZM586 453.65L588.9 456.55M588.9 453.65L586 456.55" fill="none" stroke="#000" stroke-width="0.9"/>
<path d="M604.01 451.15H606.91V454.05H604.01ZM604.01 451.15L606.91 454.05M606.91 451.15L604.01 454.05" fill="none" stroke="#000" stroke-width="0.9"/>
<path d="M622.02 449.55H624.92V452.45H622.02ZM622.02 449.55L624.92 452.45M624.92 449.55L622.02 452.45" fill="none" stroke="#000" stroke-width="0.9"/>
<path d="M640.03 445.95H642.93V448.85H640.03ZM640.03 445.95L642.93 448.85M642.93 445.95L640.03 448.85" fill="none" stroke="#000" stroke-width="0.9"/>
<path d="M658.04 442.05H660.94V444.95H658.04ZM658.04 442.05L660.94 444.95M660.94 442.05L658.04 444.95" fill="none" stroke="#000" stroke-width="0.9"/>
<path d="M676.05 438.95H678.95V441.85H676.05ZM676.05 438.95L678.95 441.85M678.95 438.95L676.05 441.85" fill="none" stroke="#000" stroke-width="0.9"/>
<circle cx="497.4" cy="455.5" r="1.75" fill="#000"/>
<circle cx="515.41" cy="453.7" r="1.75" fill="#000"/>
<circle cx="533.42" cy="452" r="1.75" fill="#000"/>
<circle cx="551.43" cy="450.4" r="1.75" fill="#000"/>
<circle cx="569.44" cy="448.5" r="1.75" fill="#000"/>
<circle cx="587.45" cy="446.9" r="1.75" fill="#000"/>
<circle cx="605.46" cy="444.5" r="1.75" fill="#000"/>
<circle cx="623.47" cy="443.5" r="1.75" fill="#000"/>
<circle cx="641.48" cy="440.4" r="1.75" fill="#000"/>
<circle cx="659.49" cy="438.1" r="1.75" fill="#000"/>
<circle cx="677.5" cy="436.1" r="1.75" fill="#000"/>
<path d="M490.2 273.5H684.4V473.5H490.2" fill="none" stroke="#4a4a4a" stroke-width="1.0"/>
<line x1="490.2" y1="273" x2="490.2" y2="474" stroke="#8a8a8a" stroke-width="1.4"/>
<line x1="497.4" y1="473.5" x2="497.4" y2="476.5" stroke="#333" stroke-width="1"/>
<text class="xl" x="497.4" y="484.6">0.0</text>
<line x1="515.41" y1="473.5" x2="515.41" y2="476.5" stroke="#333" stroke-width="1"/>
<text class="xl" x="515.41" y="484.6">0.1</text>
<line x1="533.42" y1="473.5" x2="533.42" y2="476.5" stroke="#333" stroke-width="1"/>
<text class="xl" x="533.42" y="484.6">0.2</text>
<line x1="551.43" y1="473.5" x2="551.43" y2="476.5" stroke="#333" stroke-width="1"/>
<text class="xl" x="551.43" y="484.6">0.3</text>
<line x1="569.44" y1="473.5" x2="569.44" y2="476.5" stroke="#333" stroke-width="1"/>
<text class="xl" x="569.44" y="484.6">0.4</text>
<line x1="587.45" y1="473.5" x2="587.45" y2="476.5" stroke="#333" stroke-width="1"/>
<text class="xl" x="587.45" y="484.6">0.5</text>
<line x1="605.46" y1="473.5" x2="605.46" y2="476.5" stroke="#333" stroke-width="1"/>
<text class="xl" x="605.46" y="484.6">0.6</text>
<line x1="623.47" y1="473.5" x2="623.47" y2="476.5" stroke="#333" stroke-width="1"/>
<text class="xl" x="623.47" y="484.6">0.7</text>
<line x1="641.48" y1="473.5" x2="641.48" y2="476.5" stroke="#333" stroke-width="1"/>
<text class="xl" x="641.48" y="484.6">0.8</text>
<line x1="659.49" y1="473.5" x2="659.49" y2="476.5" stroke="#333" stroke-width="1"/>
<text class="xl" x="659.49" y="484.6">0.9</text>
<line x1="677.5" y1="473.5" x2="677.5" y2="476.5" stroke="#333" stroke-width="1"/>
<text class="xl" x="677.5" y="484.6">1.0</text>
<line x1="487.2" y1="465.8" x2="490.2" y2="465.8" stroke="#555" stroke-width="1"/>
<text class="yl" transform="translate(482.9,465.8) rotate(-90)">0.00</text>
<line x1="487.2" y1="442.75" x2="490.2" y2="442.75" stroke="#555" stroke-width="1"/>
<text class="yl" transform="translate(482.9,442.75) rotate(-90)">0.05</text>
<line x1="487.2" y1="419.7" x2="490.2" y2="419.7" stroke="#555" stroke-width="1"/>
<text class="yl" transform="translate(482.9,419.7) rotate(-90)">0.10</text>
<line x1="487.2" y1="396.65" x2="490.2" y2="396.65" stroke="#555" stroke-width="1"/>
<text class="yl" transform="translate(482.9,396.65) rotate(-90)">0.15</text>
<line x1="487.2" y1="373.6" x2="490.2" y2="373.6" stroke="#555" stroke-width="1"/>
<text class="yl" transform="translate(482.9,373.6) rotate(-90)">0.20</text>
<line x1="487.2" y1="350.55" x2="490.2" y2="350.55" stroke="#555" stroke-width="1"/>
<text class="yl" transform="translate(482.9,350.55) rotate(-90)">0.25</text>
<line x1="487.2" y1="327.5" x2="490.2" y2="327.5" stroke="#555" stroke-width="1"/>
<text class="yl" transform="translate(482.9,327.5) rotate(-90)">0.30</text>
<line x1="487.2" y1="304.45" x2="490.2" y2="304.45" stroke="#555" stroke-width="1"/>
<text class="yl" transform="translate(482.9,304.45) rotate(-90)">0.35</text>
<line x1="487.2" y1="281.4" x2="490.2" y2="281.4" stroke="#555" stroke-width="1"/>
<text class="yl" transform="translate(482.9,281.4) rotate(-90)">0.40</text>
<text class="xt" transform="translate(587.3,495.6) scale(1,1.0)">Between−study variance τ<tspan dy="-3" font-size="4.1">2</tspan></text>
<text class="yt" transform="translate(471.1,373.5) rotate(-90) scale(1,1.08)">MSE of λ</text>
<text x="521.33" y="263.7" font-size="11.3" style="stroke-width:0.35px">μ</text><text x="527.9" y="265.7" font-size="7.5" style="stroke-width:0.35px">C</text><path transform="translate(543.5,263.7) scale(10.2,-10.2)" d="M0.335 0L0.25 0L0.25 0.5L0.075 0.5L0.075 0.562C0.19 0.568 0.243 0.6 0.258 0.7L0.335 0.7Z" fill="#111" stroke="#111" stroke-width="0.35" vector-effect="non-scaling-stroke"/><text x="551.3" y="263.7" font-size="10.2" style="stroke-width:0.35px">,</text><text x="558" y="263.7" font-size="10.2" style="stroke-width:0.35px">λ</text><path transform="translate(573.75,263.7) scale(10.2,-10.2)" d="M0.335 0L0.25 0L0.25 0.5L0.075 0.5L0.075 0.562C0.19 0.568 0.243 0.6 0.258 0.7L0.335 0.7Z" fill="#111" stroke="#111" stroke-width="0.35" vector-effect="non-scaling-stroke"/><text x="582.3" y="263.7" font-size="10.2" style="stroke-width:0.35px">,</text><text x="588.1" y="263.7" font-size="10.2" style="stroke-width:0.35px">n</text><path transform="translate(604.7,263.7) scale(10.2,-10.2)" d="M0.335 0L0.25 0L0.25 0.5L0.075 0.5L0.075 0.562C0.19 0.568 0.243 0.6 0.258 0.7L0.335 0.7Z" fill="#111" stroke="#111" stroke-width="0.35" vector-effect="non-scaling-stroke"/><text x="610.37" y="263.7" font-size="10.2" style="stroke-width:0.35px">0</text><text x="618.4" y="263.7" font-size="10.2" style="stroke-width:0.35px">,</text><text x="624.4" y="263.7" font-size="10.2" style="stroke-width:0.35px">K</text><text x="641.9" y="263.7" font-size="10.2" style="stroke-width:0.35px">3</text><text x="647.57" y="263.7" font-size="10.2" style="stroke-width:0.35px">0</text><rect x="535.35" y="260.05" width="5.4" height="0.9" fill="#333"/><rect x="535.35" y="261.95" width="5.4" height="0.9" fill="#333"/><rect x="565.45" y="260.05" width="5.5" height="0.9" fill="#333"/><rect x="565.45" y="261.95" width="5.5" height="0.9" fill="#333"/><rect x="596.35" y="260.05" width="5.4" height="0.9" fill="#333"/><rect x="596.35" y="261.95" width="5.4" height="0.9" fill="#333"/><rect x="634.05" y="260.05" width="5.4" height="0.9" fill="#333"/><rect x="634.05" y="261.95" width="5.4" height="0.9" fill="#333"/>
<line x1="24" y1="721.9" x2="218.8" y2="721.9" stroke="#d0d0dc" stroke-width="1"/>
<polyline points="31.4,719.5 49.41,710.5 67.42,702 85.43,693.3 103.44,685.3 121.45,677.8 139.46,668.5 157.47,663.9 175.48,652 193.49,645.5 211.5,639.6" fill="none" stroke="#0000ff" stroke-width="1.6" stroke-linejoin="round"/>
<polyline points="31.4,719.8 49.41,710.8 67.42,702.3 85.43,693.6 103.44,685.6 121.45,678.1 139.46,668.8 157.47,664.2 175.48,652.3 193.49,646.5 211.5,641.1" fill="none" stroke="#00ffff" stroke-width="1.6" stroke-linejoin="round"/>
<polyline points="31.4,719.2 49.41,710.2 67.42,701.7 85.43,693 103.44,685 121.45,677.5 139.46,668.2 157.47,663.6 175.48,651.7 193.49,644 211.5,637.5" fill="none" stroke="#000000" stroke-width="1.0" stroke-linejoin="round"/>
<polyline points="31.4,719.5 49.41,710.5 67.42,702 85.43,693.3 103.44,685.3 121.45,677.8 139.46,668.5 157.47,663.9 175.48,652 193.49,645 211.5,639.1" fill="none" stroke="#a020f0" stroke-width="1.2" stroke-linejoin="round"/>
<polyline points="31.4,719.5 49.41,710 67.42,699.6 85.43,689.3 103.44,678.8 121.45,667.9 139.46,657 157.47,650 175.48,636.1 193.49,628.6 211.5,621.9" fill="none" stroke="#ffa500" stroke-width="1.2" stroke-linejoin="round"/>
<path d="M29.9 718L32.9 721M32.9 718L29.9 721" stroke="#000" stroke-width="1.0"/>
<path d="M47.91 709L50.91 712M50.91 709L47.91 712" stroke="#000" stroke-width="1.0"/>
<path d="M65.92 700.5L68.92 703.5M68.92 700.5L65.92 703.5" stroke="#000" stroke-width="1.0"/>
<path d="M83.93 691.8L86.93 694.8M86.93 691.8L83.93 694.8" stroke="#000" stroke-width="1.0"/>
<path d="M101.94 683.8L104.94 686.8M104.94 683.8L101.94 686.8" stroke="#000" stroke-width="1.0"/>
<path d="M119.95 676.3L122.95 679.3M122.95 676.3L119.95 679.3" stroke="#000" stroke-width="1.0"/>
<path d="M137.96 667L140.96 670M140.96 667L137.96 670" stroke="#000" stroke-width="1.0"/>
<path d="M155.97 662.4L158.97 665.4M158.97 662.4L155.97 665.4" stroke="#000" stroke-width="1.0"/>
<path d="M173.98 650.5L176.98 653.5M176.98 650.5L173.98 653.5" stroke="#000" stroke-width="1.0"/>
<path d="M191.99 644L194.99 647M194.99 644L191.99 647" stroke="#000" stroke-width="1.0"/>
<path d="M210 638.1L213 641.1M213 638.1L210 641.1" stroke="#000" stroke-width="1.0"/>
<path d="M31.4 717.5L33.7 719.8L31.4 722.1L29.1 719.8Z" fill="none" stroke="#000" stroke-width="0.9"/>
<path d="M49.41 708.5L51.71 710.8L49.41 713.1L47.11 710.8Z" fill="none" stroke="#000" stroke-width="0.9"/>
<path d="M67.42 700L69.72 702.3L67.42 704.6L65.12 702.3Z" fill="none" stroke="#000" stroke-width="0.9"/>
<path d="M85.43 691.3L87.73 693.6L85.43 695.9L83.13 693.6Z" fill="none" stroke="#000" stroke-width="0.9"/>
<path d="M103.44 683.3L105.74 685.6L103.44 687.9L101.14 685.6Z" fill="none" stroke="#000" stroke-width="0.9"/>
<path d="M121.45 675.8L123.75 678.1L121.45 680.4L119.15 678.1Z" fill="none" stroke="#000" stroke-width="0.9"/>
<path d="M139.46 666.5L141.76 668.8L139.46 671.1L137.16 668.8Z" fill="none" stroke="#000" stroke-width="0.9"/>
<path d="M157.47 661.9L159.77 664.2L157.47 666.5L155.17 664.2Z" fill="none" stroke="#000" stroke-width="0.9"/>
<path d="M175.48 650L177.78 652.3L175.48 654.6L173.18 652.3Z" fill="none" stroke="#000" stroke-width="0.9"/>
<path d="M193.49 644.2L195.79 646.5L193.49 648.8L191.19 646.5Z" fill="none" stroke="#000" stroke-width="0.9"/>
<path d="M211.5 638.8L213.8 641.1L211.5 643.4L209.2 641.1Z" fill="none" stroke="#000" stroke-width="0.9"/>
<circle cx="31.4" cy="719.2" r="0.9" fill="#000"/>
<circle cx="49.41" cy="710.2" r="0.9" fill="#000"/>
<circle cx="67.42" cy="701.7" r="0.9" fill="#000"/>
<circle cx="85.43" cy="693" r="0.9" fill="#000"/>
<circle cx="103.44" cy="685" r="0.9" fill="#000"/>
<circle cx="121.45" cy="677.5" r="0.9" fill="#000"/>
<circle cx="139.46" cy="668.2" r="0.9" fill="#000"/>
<circle cx="157.47" cy="663.6" r="0.9" fill="#000"/>
<circle cx="175.48" cy="651.7" r="0.9" fill="#000"/>
<circle cx="193.49" cy="644" r="0.9" fill="#000"/>
<circle cx="211.5" cy="637.5" r="0.9" fill="#000"/>
<path d="M29.95 718.05H32.85V720.95H29.95ZM29.95 718.05L32.85 720.95M32.85 718.05L29.95 720.95" fill="none" stroke="#000" stroke-width="0.9"/>
<path d="M47.96 709.05H50.86V711.95H47.96ZM47.96 709.05L50.86 711.95M50.86 709.05L47.96 711.95" fill="none" stroke="#000" stroke-width="0.9"/>
<path d="M65.97 700.55H68.87V703.45H65.97ZM65.97 700.55L68.87 703.45M68.87 700.55L65.97 703.45" fill="none" stroke="#000" stroke-width="0.9"/>
<path d="M83.98 691.85H86.88V694.75H83.98ZM83.98 691.85L86.88 694.75M86.88 691.85L83.98 694.75" fill="none" stroke="#000" stroke-width="0.9"/>
<path d="M101.99 683.85H104.89V686.75H101.99ZM101.99 683.85L104.89 686.75M104.89 683.85L101.99 686.75" fill="none" stroke="#000" stroke-width="0.9"/>
<path d="M120 676.35H122.9V679.25H120ZM120 676.35L122.9 679.25M122.9 676.35L120 679.25" fill="none" stroke="#000" stroke-width="0.9"/>
<path d="M138.01 667.05H140.91V669.95H138.01ZM138.01 667.05L140.91 669.95M140.91 667.05L138.01 669.95" fill="none" stroke="#000" stroke-width="0.9"/>
<path d="M156.02 662.45H158.92V665.35H156.02ZM156.02 662.45L158.92 665.35M158.92 662.45L156.02 665.35" fill="none" stroke="#000" stroke-width="0.9"/>
<path d="M174.03 650.55H176.93V653.45H174.03ZM174.03 650.55L176.93 653.45M176.93 650.55L174.03 653.45" fill="none" stroke="#000" stroke-width="0.9"/>
<path d="M192.04 643.55H194.94V646.45H192.04ZM192.04 643.55L194.94 646.45M194.94 643.55L192.04 646.45" fill="none" stroke="#000" stroke-width="0.9"/>
<path d="M210.05 637.65H212.95V640.55H210.05ZM210.05 637.65L212.95 640.55M212.95 637.65L210.05 640.55" fill="none" stroke="#000" stroke-width="0.9"/>
<circle cx="31.4" cy="719.5" r="1.75" fill="#000"/>
<circle cx="49.41" cy="710" r="1.75" fill="#000"/>
<circle cx="67.42" cy="699.6" r="1.75" fill="#000"/>
<circle cx="85.43" cy="689.3" r="1.75" fill="#000"/>
<circle cx="103.44" cy="678.8" r="1.75" fill="#000"/>
<circle cx="121.45" cy="667.9" r="1.75" fill="#000"/>
<circle cx="139.46" cy="657" r="1.75" fill="#000"/>
<circle cx="157.47" cy="650" r="1.75" fill="#000"/>
<circle cx="175.48" cy="636.1" r="1.75" fill="#000"/>
<circle cx="193.49" cy="628.6" r="1.75" fill="#000"/>
<circle cx="211.5" cy="621.9" r="1.75" fill="#000"/>
<path d="M24 530H218.8V729.5H24" fill="none" stroke="#4a4a4a" stroke-width="1.0"/>
<line x1="24" y1="529.5" x2="24" y2="730" stroke="#8a8a8a" stroke-width="1.4"/>
<line x1="31.4" y1="729.5" x2="31.4" y2="732.5" stroke="#333" stroke-width="1"/>
<text class="xl" x="31.4" y="740.6">0.0</text>
<line x1="49.41" y1="729.5" x2="49.41" y2="732.5" stroke="#333" stroke-width="1"/>
<text class="xl" x="49.41" y="740.6">0.1</text>
<line x1="67.42" y1="729.5" x2="67.42" y2="732.5" stroke="#333" stroke-width="1"/>
<text class="xl" x="67.42" y="740.6">0.2</text>
<line x1="85.43" y1="729.5" x2="85.43" y2="732.5" stroke="#333" stroke-width="1"/>
<text class="xl" x="85.43" y="740.6">0.3</text>
<line x1="103.44" y1="729.5" x2="103.44" y2="732.5" stroke="#333" stroke-width="1"/>
<text class="xl" x="103.44" y="740.6">0.4</text>
<line x1="121.45" y1="729.5" x2="121.45" y2="732.5" stroke="#333" stroke-width="1"/>
<text class="xl" x="121.45" y="740.6">0.5</text>
<line x1="139.46" y1="729.5" x2="139.46" y2="732.5" stroke="#333" stroke-width="1"/>
<text class="xl" x="139.46" y="740.6">0.6</text>
<line x1="157.47" y1="729.5" x2="157.47" y2="732.5" stroke="#333" stroke-width="1"/>
<text class="xl" x="157.47" y="740.6">0.7</text>
<line x1="175.48" y1="729.5" x2="175.48" y2="732.5" stroke="#333" stroke-width="1"/>
<text class="xl" x="175.48" y="740.6">0.8</text>
<line x1="193.49" y1="729.5" x2="193.49" y2="732.5" stroke="#333" stroke-width="1"/>
<text class="xl" x="193.49" y="740.6">0.9</text>
<line x1="211.5" y1="729.5" x2="211.5" y2="732.5" stroke="#333" stroke-width="1"/>
<text class="xl" x="211.5" y="740.6">1.0</text>
<line x1="21" y1="721.9" x2="24" y2="721.9" stroke="#555" stroke-width="1"/>
<text class="yl" transform="translate(16.7,721.9) rotate(-90)">0.00</text>
<line x1="21" y1="698.85" x2="24" y2="698.85" stroke="#555" stroke-width="1"/>
<text class="yl" transform="translate(16.7,698.85) rotate(-90)">0.05</text>
<line x1="21" y1="675.8" x2="24" y2="675.8" stroke="#555" stroke-width="1"/>
<text class="yl" transform="translate(16.7,675.8) rotate(-90)">0.10</text>
<line x1="21" y1="652.75" x2="24" y2="652.75" stroke="#555" stroke-width="1"/>
<text class="yl" transform="translate(16.7,652.75) rotate(-90)">0.15</text>
<line x1="21" y1="629.7" x2="24" y2="629.7" stroke="#555" stroke-width="1"/>
<text class="yl" transform="translate(16.7,629.7) rotate(-90)">0.20</text>
<line x1="21" y1="606.65" x2="24" y2="606.65" stroke="#555" stroke-width="1"/>
<text class="yl" transform="translate(16.7,606.65) rotate(-90)">0.25</text>
<line x1="21" y1="583.6" x2="24" y2="583.6" stroke="#555" stroke-width="1"/>
<text class="yl" transform="translate(16.7,583.6) rotate(-90)">0.30</text>
<line x1="21" y1="560.55" x2="24" y2="560.55" stroke="#555" stroke-width="1"/>
<text class="yl" transform="translate(16.7,560.55) rotate(-90)">0.35</text>
<line x1="21" y1="537.5" x2="24" y2="537.5" stroke="#555" stroke-width="1"/>
<text class="yl" transform="translate(16.7,537.5) rotate(-90)">0.40</text>
<text class="xt" transform="translate(121.4,751.8) scale(1,1.0)">Between−study variance τ<tspan dy="-3" font-size="4.1">2</tspan></text>
<text class="yt" transform="translate(4.9,629.75) rotate(-90) scale(1,1.08)">MSE of λ</text>
<text x="58.23" y="519.7" font-size="11.3" style="stroke-width:0.35px">μ</text><text x="64.8" y="521.7" font-size="7.5" style="stroke-width:0.35px">C</text><text x="80.4" y="519.7" font-size="10.2" style="stroke-width:0.35px">4</text><text x="88.2" y="519.7" font-size="10.2" style="stroke-width:0.35px">,</text><text x="94.9" y="519.7" font-size="10.2" style="stroke-width:0.35px">λ</text><text x="110.65" y="519.7" font-size="10.2" style="stroke-width:0.35px">0</text><text x="119.2" y="519.7" font-size="10.2" style="stroke-width:0.35px">,</text><text x="125" y="519.7" font-size="10.2" style="stroke-width:0.35px">n</text><path transform="translate(141.6,519.7) scale(10.2,-10.2)" d="M0.335 0L0.25 0L0.25 0.5L0.075 0.5L0.075 0.562C0.19 0.568 0.243 0.6 0.258 0.7L0.335 0.7Z" fill="#111" stroke="#111" stroke-width="0.35" vector-effect="non-scaling-stroke"/><text x="147.27" y="519.7" font-size="10.2" style="stroke-width:0.35px">0</text><text x="155.3" y="519.7" font-size="10.2" style="stroke-width:0.35px">,</text><text x="161.3" y="519.7" font-size="10.2" style="stroke-width:0.35px">K</text><text x="178.8" y="519.7" font-size="10.2" style="stroke-width:0.35px">5</text><rect x="72.25" y="516.05" width="5.4" height="0.9" fill="#333"/><rect x="72.25" y="517.95" width="5.4" height="0.9" fill="#333"/><rect x="102.35" y="516.05" width="5.5" height="0.9" fill="#333"/><rect x="102.35" y="517.95" width="5.5" height="0.9" fill="#333"/><rect x="133.25" y="516.05" width="5.4" height="0.9" fill="#333"/><rect x="133.25" y="517.95" width="5.4" height="0.9" fill="#333"/><rect x="170.95" y="516.05" width="5.4" height="0.9" fill="#333"/><rect x="170.95" y="517.95" width="5.4" height="0.9" fill="#333"/>
<line x1="257" y1="721.9" x2="451.8" y2="721.9" stroke="#d0d0dc" stroke-width="1"/>
<polyline points="264.3,720.7 282.31,716.3 300.32,711.9 318.33,707.4 336.34,703.7 354.35,699.1 372.36,695 390.37,691.3 408.38,686.7 426.39,682.3 444.4,677.5" fill="none" stroke="#0000ff" stroke-width="1.6" stroke-linejoin="round"/>
<polyline points="264.3,721.1 282.31,716.7 300.32,712.3 318.33,707.8 336.34,704.1 354.35,699.5 372.36,695.4 390.37,691.7 408.38,687.1 426.39,682.7 444.4,678.6" fill="none" stroke="#00ffff" stroke-width="1.6" stroke-linejoin="round"/>
<polyline points="264.3,720.6 282.31,716.2 300.32,711.8 318.33,707.3 336.34,703.6 354.35,699 372.36,694.9 390.37,691.2 408.38,686.6 426.39,682.2 444.4,677.4" fill="none" stroke="#000000" stroke-width="1.0" stroke-linejoin="round"/>
<polyline points="264.3,720.4 282.31,716 300.32,711.6 318.33,707.1 336.34,703.4 354.35,698.8 372.36,694.7 390.37,691 408.38,686.4 426.39,682 444.4,677.2" fill="none" stroke="#a020f0" stroke-width="1.2" stroke-linejoin="round"/>
<polyline points="264.3,720.2 282.31,715.9 300.32,711 318.33,705.2 336.34,700.5 354.35,694.3 372.36,689.9 390.37,685.2 408.38,680.1 426.39,675.1 444.4,670.6" fill="none" stroke="#ffa500" stroke-width="1.2" stroke-linejoin="round"/>
<path d="M262.8 719.2L265.8 722.2M265.8 719.2L262.8 722.2" stroke="#000" stroke-width="1.0"/>
<path d="M280.81 714.8L283.81 717.8M283.81 714.8L280.81 717.8" stroke="#000" stroke-width="1.0"/>
<path d="M298.82 710.4L301.82 713.4M301.82 710.4L298.82 713.4" stroke="#000" stroke-width="1.0"/>
<path d="M316.83 705.9L319.83 708.9M319.83 705.9L316.83 708.9" stroke="#000" stroke-width="1.0"/>
<path d="M334.84 702.2L337.84 705.2M337.84 702.2L334.84 705.2" stroke="#000" stroke-width="1.0"/>
<path d="M352.85 697.6L355.85 700.6M355.85 697.6L352.85 700.6" stroke="#000" stroke-width="1.0"/>
<path d="M370.86 693.5L373.86 696.5M373.86 693.5L370.86 696.5" stroke="#000" stroke-width="1.0"/>
<path d="M388.87 689.8L391.87 692.8M391.87 689.8L388.87 692.8" stroke="#000" stroke-width="1.0"/>
<path d="M406.88 685.2L409.88 688.2M409.88 685.2L406.88 688.2" stroke="#000" stroke-width="1.0"/>
<path d="M424.89 680.8L427.89 683.8M427.89 680.8L424.89 683.8" stroke="#000" stroke-width="1.0"/>
<path d="M442.9 676L445.9 679M445.9 676L442.9 679" stroke="#000" stroke-width="1.0"/>
<path d="M264.3 718.8L266.6 721.1L264.3 723.4L262 721.1Z" fill="none" stroke="#000" stroke-width="0.9"/>
<path d="M282.31 714.4L284.61 716.7L282.31 719L280.01 716.7Z" fill="none" stroke="#000" stroke-width="0.9"/>
<path d="M300.32 710L302.62 712.3L300.32 714.6L298.02 712.3Z" fill="none" stroke="#000" stroke-width="0.9"/>
<path d="M318.33 705.5L320.63 707.8L318.33 710.1L316.03 707.8Z" fill="none" stroke="#000" stroke-width="0.9"/>
<path d="M336.34 701.8L338.64 704.1L336.34 706.4L334.04 704.1Z" fill="none" stroke="#000" stroke-width="0.9"/>
<path d="M354.35 697.2L356.65 699.5L354.35 701.8L352.05 699.5Z" fill="none" stroke="#000" stroke-width="0.9"/>
<path d="M372.36 693.1L374.66 695.4L372.36 697.7L370.06 695.4Z" fill="none" stroke="#000" stroke-width="0.9"/>
<path d="M390.37 689.4L392.67 691.7L390.37 694L388.07 691.7Z" fill="none" stroke="#000" stroke-width="0.9"/>
<path d="M408.38 684.8L410.68 687.1L408.38 689.4L406.08 687.1Z" fill="none" stroke="#000" stroke-width="0.9"/>
<path d="M426.39 680.4L428.69 682.7L426.39 685L424.09 682.7Z" fill="none" stroke="#000" stroke-width="0.9"/>
<path d="M444.4 676.3L446.7 678.6L444.4 680.9L442.1 678.6Z" fill="none" stroke="#000" stroke-width="0.9"/>
<circle cx="264.3" cy="720.6" r="0.9" fill="#000"/>
<circle cx="282.31" cy="716.2" r="0.9" fill="#000"/>
<circle cx="300.32" cy="711.8" r="0.9" fill="#000"/>
<circle cx="318.33" cy="707.3" r="0.9" fill="#000"/>
<circle cx="336.34" cy="703.6" r="0.9" fill="#000"/>
<circle cx="354.35" cy="699" r="0.9" fill="#000"/>
<circle cx="372.36" cy="694.9" r="0.9" fill="#000"/>
<circle cx="390.37" cy="691.2" r="0.9" fill="#000"/>
<circle cx="408.38" cy="686.6" r="0.9" fill="#000"/>
<circle cx="426.39" cy="682.2" r="0.9" fill="#000"/>
<circle cx="444.4" cy="677.4" r="0.9" fill="#000"/>
<path d="M262.85 718.95H265.75V721.85H262.85ZM262.85 718.95L265.75 721.85M265.75 718.95L262.85 721.85" fill="none" stroke="#000" stroke-width="0.9"/>
<path d="M280.86 714.55H283.76V717.45H280.86ZM280.86 714.55L283.76 717.45M283.76 714.55L280.86 717.45" fill="none" stroke="#000" stroke-width="0.9"/>
<path d="M298.87 710.15H301.77V713.05H298.87ZM298.87 710.15L301.77 713.05M301.77 710.15L298.87 713.05" fill="none" stroke="#000" stroke-width="0.9"/>
<path d="M316.88 705.65H319.78V708.55H316.88ZM316.88 705.65L319.78 708.55M319.78 705.65L316.88 708.55" fill="none" stroke="#000" stroke-width="0.9"/>
<path d="M334.89 701.95H337.79V704.85H334.89ZM334.89 701.95L337.79 704.85M337.79 701.95L334.89 704.85" fill="none" stroke="#000" stroke-width="0.9"/>
<path d="M352.9 697.35H355.8V700.25H352.9ZM352.9 697.35L355.8 700.25M355.8 697.35L352.9 700.25" fill="none" stroke="#000" stroke-width="0.9"/>
<path d="M370.91 693.25H373.81V696.15H370.91ZM370.91 693.25L373.81 696.15M373.81 693.25L370.91 696.15" fill="none" stroke="#000" stroke-width="0.9"/>
<path d="M388.92 689.55H391.82V692.45H388.92ZM388.92 689.55L391.82 692.45M391.82 689.55L388.92 692.45" fill="none" stroke="#000" stroke-width="0.9"/>
<path d="M406.93 684.95H409.83V687.85H406.93ZM406.93 684.95L409.83 687.85M409.83 684.95L406.93 687.85" fill="none" stroke="#000" stroke-width="0.9"/>
<path d="M424.94 680.55H427.84V683.45H424.94ZM424.94 680.55L427.84 683.45M427.84 680.55L424.94 683.45" fill="none" stroke="#000" stroke-width="0.9"/>
<path d="M442.95 675.75H445.85V678.65H442.95ZM442.95 675.75L445.85 678.65M445.85 675.75L442.95 678.65" fill="none" stroke="#000" stroke-width="0.9"/>
<circle cx="264.3" cy="720.2" r="1.75" fill="#000"/>
<circle cx="282.31" cy="715.9" r="1.75" fill="#000"/>
<circle cx="300.32" cy="711" r="1.75" fill="#000"/>
<circle cx="318.33" cy="705.2" r="1.75" fill="#000"/>
<circle cx="336.34" cy="700.5" r="1.75" fill="#000"/>
<circle cx="354.35" cy="694.3" r="1.75" fill="#000"/>
<circle cx="372.36" cy="689.9" r="1.75" fill="#000"/>
<circle cx="390.37" cy="685.2" r="1.75" fill="#000"/>
<circle cx="408.38" cy="680.1" r="1.75" fill="#000"/>
<circle cx="426.39" cy="675.1" r="1.75" fill="#000"/>
<circle cx="444.4" cy="670.6" r="1.75" fill="#000"/>
<path d="M257 530H451.8V729.5H257" fill="none" stroke="#4a4a4a" stroke-width="1.0"/>
<line x1="257" y1="529.5" x2="257" y2="730" stroke="#8a8a8a" stroke-width="1.4"/>
<line x1="264.3" y1="729.5" x2="264.3" y2="732.5" stroke="#333" stroke-width="1"/>
<text class="xl" x="264.3" y="740.6">0.0</text>
<line x1="282.31" y1="729.5" x2="282.31" y2="732.5" stroke="#333" stroke-width="1"/>
<text class="xl" x="282.31" y="740.6">0.1</text>
<line x1="300.32" y1="729.5" x2="300.32" y2="732.5" stroke="#333" stroke-width="1"/>
<text class="xl" x="300.32" y="740.6">0.2</text>
<line x1="318.33" y1="729.5" x2="318.33" y2="732.5" stroke="#333" stroke-width="1"/>
<text class="xl" x="318.33" y="740.6">0.3</text>
<line x1="336.34" y1="729.5" x2="336.34" y2="732.5" stroke="#333" stroke-width="1"/>
<text class="xl" x="336.34" y="740.6">0.4</text>
<line x1="354.35" y1="729.5" x2="354.35" y2="732.5" stroke="#333" stroke-width="1"/>
<text class="xl" x="354.35" y="740.6">0.5</text>
<line x1="372.36" y1="729.5" x2="372.36" y2="732.5" stroke="#333" stroke-width="1"/>
<text class="xl" x="372.36" y="740.6">0.6</text>
<line x1="390.37" y1="729.5" x2="390.37" y2="732.5" stroke="#333" stroke-width="1"/>
<text class="xl" x="390.37" y="740.6">0.7</text>
<line x1="408.38" y1="729.5" x2="408.38" y2="732.5" stroke="#333" stroke-width="1"/>
<text class="xl" x="408.38" y="740.6">0.8</text>
<line x1="426.39" y1="729.5" x2="426.39" y2="732.5" stroke="#333" stroke-width="1"/>
<text class="xl" x="426.39" y="740.6">0.9</text>
<line x1="444.4" y1="729.5" x2="444.4" y2="732.5" stroke="#333" stroke-width="1"/>
<text class="xl" x="444.4" y="740.6">1.0</text>
<line x1="254" y1="721.9" x2="257" y2="721.9" stroke="#555" stroke-width="1"/>
<text class="yl" transform="translate(249.7,721.9) rotate(-90)">0.00</text>
<line x1="254" y1="698.85" x2="257" y2="698.85" stroke="#555" stroke-width="1"/>
<text class="yl" transform="translate(249.7,698.85) rotate(-90)">0.05</text>
<line x1="254" y1="675.8" x2="257" y2="675.8" stroke="#555" stroke-width="1"/>
<text class="yl" transform="translate(249.7,675.8) rotate(-90)">0.10</text>
<line x1="254" y1="652.75" x2="257" y2="652.75" stroke="#555" stroke-width="1"/>
<text class="yl" transform="translate(249.7,652.75) rotate(-90)">0.15</text>
<line x1="254" y1="629.7" x2="257" y2="629.7" stroke="#555" stroke-width="1"/>
<text class="yl" transform="translate(249.7,629.7) rotate(-90)">0.20</text>
<line x1="254" y1="606.65" x2="257" y2="606.65" stroke="#555" stroke-width="1"/>
<text class="yl" transform="translate(249.7,606.65) rotate(-90)">0.25</text>
<line x1="254" y1="583.6" x2="257" y2="583.6" stroke="#555" stroke-width="1"/>
<text class="yl" transform="translate(249.7,583.6) rotate(-90)">0.30</text>
<line x1="254" y1="560.55" x2="257" y2="560.55" stroke="#555" stroke-width="1"/>
<text class="yl" transform="translate(249.7,560.55) rotate(-90)">0.35</text>
<line x1="254" y1="537.5" x2="257" y2="537.5" stroke="#555" stroke-width="1"/>
<text class="yl" transform="translate(249.7,537.5) rotate(-90)">0.40</text>
<text class="xt" transform="translate(354.4,751.8) scale(1,1.0)">Between−study variance τ<tspan dy="-3" font-size="4.1">2</tspan></text>
<text class="yt" transform="translate(237.9,629.75) rotate(-90) scale(1,1.08)">MSE of λ</text>
<text x="288.43" y="519.7" font-size="11.3" style="stroke-width:0.35px">μ</text><text x="295" y="521.7" font-size="7.5" style="stroke-width:0.35px">C</text><text x="310.6" y="519.7" font-size="10.2" style="stroke-width:0.35px">4</text><text x="318.4" y="519.7" font-size="10.2" style="stroke-width:0.35px">,</text><text x="325.1" y="519.7" font-size="10.2" style="stroke-width:0.35px">λ</text><text x="340.85" y="519.7" font-size="10.2" style="stroke-width:0.35px">0</text><text x="349.4" y="519.7" font-size="10.2" style="stroke-width:0.35px">,</text><text x="355.2" y="519.7" font-size="10.2" style="stroke-width:0.35px">n</text><path transform="translate(371.8,519.7) scale(10.2,-10.2)" d="M0.335 0L0.25 0L0.25 0.5L0.075 0.5L0.075 0.562C0.19 0.568 0.243 0.6 0.258 0.7L0.335 0.7Z" fill="#111" stroke="#111" stroke-width="0.35" vector-effect="non-scaling-stroke"/><text x="377.47" y="519.7" font-size="10.2" style="stroke-width:0.35px">0</text><text x="385.5" y="519.7" font-size="10.2" style="stroke-width:0.35px">,</text><text x="391.5" y="519.7" font-size="10.2" style="stroke-width:0.35px">K</text><path transform="translate(409,519.7) scale(10.2,-10.2)" d="M0.335 0L0.25 0L0.25 0.5L0.075 0.5L0.075 0.562C0.19 0.568 0.243 0.6 0.258 0.7L0.335 0.7Z" fill="#111" stroke="#111" stroke-width="0.35" vector-effect="non-scaling-stroke"/><text x="414.67" y="519.7" font-size="10.2" style="stroke-width:0.35px">0</text><rect x="302.45" y="516.05" width="5.4" height="0.9" fill="#333"/><rect x="302.45" y="517.95" width="5.4" height="0.9" fill="#333"/><rect x="332.55" y="516.05" width="5.5" height="0.9" fill="#333"/><rect x="332.55" y="517.95" width="5.5" height="0.9" fill="#333"/><rect x="363.45" y="516.05" width="5.4" height="0.9" fill="#333"/><rect x="363.45" y="517.95" width="5.4" height="0.9" fill="#333"/><rect x="401.15" y="516.05" width="5.4" height="0.9" fill="#333"/><rect x="401.15" y="517.95" width="5.4" height="0.9" fill="#333"/>
<line x1="490.2" y1="721.9" x2="684.4" y2="721.9" stroke="#d0d0dc" stroke-width="1"/>
<polyline points="497.4,721.4 515.41,719.8 533.42,718.1 551.43,716.6 569.44,715.1 587.45,713.2 605.46,711.5 623.47,709.7 641.48,707.8 659.49,705.2 677.5,703.7" fill="none" stroke="#0000ff" stroke-width="1.6" stroke-linejoin="round"/>
<polyline points="497.4,721.7 515.41,720.1 533.42,718.4 551.43,716.9 569.44,715.4 587.45,713.5 605.46,711.8 623.47,710 641.48,708.1 659.49,705.5 677.5,704" fill="none" stroke="#00ffff" stroke-width="1.6" stroke-linejoin="round"/>
<polyline points="497.4,721.3 515.41,719.7 533.42,718 551.43,716.5 569.44,715 587.45,713.1 605.46,711.4 623.47,709.6 641.48,707.7 659.49,705.1 677.5,703.6" fill="none" stroke="#000000" stroke-width="1.0" stroke-linejoin="round"/>
<polyline points="497.4,721.4 515.41,719.8 533.42,718.1 551.43,716.6 569.44,715.1 587.45,713.2 605.46,711.5 623.47,709.7 641.48,707.8 659.49,704.6 677.5,702.7" fill="none" stroke="#a020f0" stroke-width="1.2" stroke-linejoin="round"/>
<polyline points="497.4,721.4 515.41,719.8 533.42,718.1 551.43,716.6 569.44,715.1 587.45,713.2 605.46,711.5 623.47,709.7 641.48,707.8 659.49,705.8 677.5,704.6" fill="none" stroke="#ffa500" stroke-width="1.2" stroke-linejoin="round"/>
<path d="M495.9 719.9L498.9 722.9M498.9 719.9L495.9 722.9" stroke="#000" stroke-width="1.0"/>
<path d="M513.91 718.3L516.91 721.3M516.91 718.3L513.91 721.3" stroke="#000" stroke-width="1.0"/>
<path d="M531.92 716.6L534.92 719.6M534.92 716.6L531.92 719.6" stroke="#000" stroke-width="1.0"/>
<path d="M549.93 715.1L552.93 718.1M552.93 715.1L549.93 718.1" stroke="#000" stroke-width="1.0"/>
<path d="M567.94 713.6L570.94 716.6M570.94 713.6L567.94 716.6" stroke="#000" stroke-width="1.0"/>
<path d="M585.95 711.7L588.95 714.7M588.95 711.7L585.95 714.7" stroke="#000" stroke-width="1.0"/>
<path d="M603.96 710L606.96 713M606.96 710L603.96 713" stroke="#000" stroke-width="1.0"/>
<path d="M621.97 708.2L624.97 711.2M624.97 708.2L621.97 711.2" stroke="#000" stroke-width="1.0"/>
<path d="M639.98 706.3L642.98 709.3M642.98 706.3L639.98 709.3" stroke="#000" stroke-width="1.0"/>
<path d="M657.99 703.7L660.99 706.7M660.99 703.7L657.99 706.7" stroke="#000" stroke-width="1.0"/>
<path d="M676 702.2L679 705.2M679 702.2L676 705.2" stroke="#000" stroke-width="1.0"/>
<path d="M497.4 719.4L499.7 721.7L497.4 724L495.1 721.7Z" fill="none" stroke="#000" stroke-width="0.9"/>
<path d="M515.41 717.8L517.71 720.1L515.41 722.4L513.11 720.1Z" fill="none" stroke="#000" stroke-width="0.9"/>
<path d="M533.42 716.1L535.72 718.4L533.42 720.7L531.12 718.4Z" fill="none" stroke="#000" stroke-width="0.9"/>
<path d="M551.43 714.6L553.73 716.9L551.43 719.2L549.13 716.9Z" fill="none" stroke="#000" stroke-width="0.9"/>
<path d="M569.44 713.1L571.74 715.4L569.44 717.7L567.14 715.4Z" fill="none" stroke="#000" stroke-width="0.9"/>
<path d="M587.45 711.2L589.75 713.5L587.45 715.8L585.15 713.5Z" fill="none" stroke="#000" stroke-width="0.9"/>
<path d="M605.46 709.5L607.76 711.8L605.46 714.1L603.16 711.8Z" fill="none" stroke="#000" stroke-width="0.9"/>
<path d="M623.47 707.7L625.77 710L623.47 712.3L621.17 710Z" fill="none" stroke="#000" stroke-width="0.9"/>
<path d="M641.48 705.8L643.78 708.1L641.48 710.4L639.18 708.1Z" fill="none" stroke="#000" stroke-width="0.9"/>
<path d="M659.49 703.2L661.79 705.5L659.49 707.8L657.19 705.5Z" fill="none" stroke="#000" stroke-width="0.9"/>
<path d="M677.5 701.7L679.8 704L677.5 706.3L675.2 704Z" fill="none" stroke="#000" stroke-width="0.9"/>
<circle cx="497.4" cy="721.3" r="0.9" fill="#000"/>
<circle cx="515.41" cy="719.7" r="0.9" fill="#000"/>
<circle cx="533.42" cy="718" r="0.9" fill="#000"/>
<circle cx="551.43" cy="716.5" r="0.9" fill="#000"/>
<circle cx="569.44" cy="715" r="0.9" fill="#000"/>
<circle cx="587.45" cy="713.1" r="0.9" fill="#000"/>
<circle cx="605.46" cy="711.4" r="0.9" fill="#000"/>
<circle cx="623.47" cy="709.6" r="0.9" fill="#000"/>
<circle cx="641.48" cy="707.7" r="0.9" fill="#000"/>
<circle cx="659.49" cy="705.1" r="0.9" fill="#000"/>
<circle cx="677.5" cy="703.6" r="0.9" fill="#000"/>
<path d="M495.95 719.95H498.85V722.85H495.95ZM495.95 719.95L498.85 722.85M498.85 719.95L495.95 722.85" fill="none" stroke="#000" stroke-width="0.9"/>
<path d="M513.96 718.35H516.86V721.25H513.96ZM513.96 718.35L516.86 721.25M516.86 718.35L513.96 721.25" fill="none" stroke="#000" stroke-width="0.9"/>
<path d="M531.97 716.65H534.87V719.55H531.97ZM531.97 716.65L534.87 719.55M534.87 716.65L531.97 719.55" fill="none" stroke="#000" stroke-width="0.9"/>
<path d="M549.98 715.15H552.88V718.05H549.98ZM549.98 715.15L552.88 718.05M552.88 715.15L549.98 718.05" fill="none" stroke="#000" stroke-width="0.9"/>
<path d="M567.99 713.65H570.89V716.55H567.99ZM567.99 713.65L570.89 716.55M570.89 713.65L567.99 716.55" fill="none" stroke="#000" stroke-width="0.9"/>
<path d="M586 711.75H588.9V714.65H586ZM586 711.75L588.9 714.65M588.9 711.75L586 714.65" fill="none" stroke="#000" stroke-width="0.9"/>
<path d="M604.01 710.05H606.91V712.95H604.01ZM604.01 710.05L606.91 712.95M606.91 710.05L604.01 712.95" fill="none" stroke="#000" stroke-width="0.9"/>
<path d="M622.02 708.25H624.92V711.15H622.02ZM622.02 708.25L624.92 711.15M624.92 708.25L622.02 711.15" fill="none" stroke="#000" stroke-width="0.9"/>
<path d="M640.03 706.35H642.93V709.25H640.03ZM640.03 706.35L642.93 709.25M642.93 706.35L640.03 709.25" fill="none" stroke="#000" stroke-width="0.9"/>
<path d="M658.04 703.15H660.94V706.05H658.04ZM658.04 703.15L660.94 706.05M660.94 703.15L658.04 706.05" fill="none" stroke="#000" stroke-width="0.9"/>
<path d="M676.05 701.25H678.95V704.15H676.05ZM676.05 701.25L678.95 704.15M678.95 701.25L676.05 704.15" fill="none" stroke="#000" stroke-width="0.9"/>
<circle cx="497.4" cy="721.4" r="1.75" fill="#000"/>
<circle cx="515.41" cy="719.8" r="1.75" fill="#000"/>
<circle cx="533.42" cy="718.1" r="1.75" fill="#000"/>
<circle cx="551.43" cy="716.6" r="1.75" fill="#000"/>
<circle cx="569.44" cy="715.1" r="1.75" fill="#000"/>
<circle cx="587.45" cy="713.2" r="1.75" fill="#000"/>
<circle cx="605.46" cy="711.5" r="1.75" fill="#000"/>
<circle cx="623.47" cy="709.7" r="1.75" fill="#000"/>
<circle cx="641.48" cy="707.8" r="1.75" fill="#000"/>
<circle cx="659.49" cy="705.8" r="1.75" fill="#000"/>
<circle cx="677.5" cy="704.6" r="1.75" fill="#000"/>
<path d="M490.2 530H684.4V729.5H490.2" fill="none" stroke="#4a4a4a" stroke-width="1.0"/>
<line x1="490.2" y1="529.5" x2="490.2" y2="730" stroke="#8a8a8a" stroke-width="1.4"/>
<line x1="497.4" y1="729.5" x2="497.4" y2="732.5" stroke="#333" stroke-width="1"/>
<text class="xl" x="497.4" y="740.6">0.0</text>
<line x1="515.41" y1="729.5" x2="515.41" y2="732.5" stroke="#333" stroke-width="1"/>
<text class="xl" x="515.41" y="740.6">0.1</text>
<line x1="533.42" y1="729.5" x2="533.42" y2="732.5" stroke="#333" stroke-width="1"/>
<text class="xl" x="533.42" y="740.6">0.2</text>
<line x1="551.43" y1="729.5" x2="551.43" y2="732.5" stroke="#333" stroke-width="1"/>
<text class="xl" x="551.43" y="740.6">0.3</text>
<line x1="569.44" y1="729.5" x2="569.44" y2="732.5" stroke="#333" stroke-width="1"/>
<text class="xl" x="569.44" y="740.6">0.4</text>
<line x1="587.45" y1="729.5" x2="587.45" y2="732.5" stroke="#333" stroke-width="1"/>
<text class="xl" x="587.45" y="740.6">0.5</text>
<line x1="605.46" y1="729.5" x2="605.46" y2="732.5" stroke="#333" stroke-width="1"/>
<text class="xl" x="605.46" y="740.6">0.6</text>
<line x1="623.47" y1="729.5" x2="623.47" y2="732.5" stroke="#333" stroke-width="1"/>
<text class="xl" x="623.47" y="740.6">0.7</text>
<line x1="641.48" y1="729.5" x2="641.48" y2="732.5" stroke="#333" stroke-width="1"/>
<text class="xl" x="641.48" y="740.6">0.8</text>
<line x1="659.49" y1="729.5" x2="659.49" y2="732.5" stroke="#333" stroke-width="1"/>
<text class="xl" x="659.49" y="740.6">0.9</text>
<line x1="677.5" y1="729.5" x2="677.5" y2="732.5" stroke="#333" stroke-width="1"/>
<text class="xl" x="677.5" y="740.6">1.0</text>
<line x1="487.2" y1="721.9" x2="490.2" y2="721.9" stroke="#555" stroke-width="1"/>
<text class="yl" transform="translate(482.9,721.9) rotate(-90)">0.00</text>
<line x1="487.2" y1="698.85" x2="490.2" y2="698.85" stroke="#555" stroke-width="1"/>
<text class="yl" transform="translate(482.9,698.85) rotate(-90)">0.05</text>
<line x1="487.2" y1="675.8" x2="490.2" y2="675.8" stroke="#555" stroke-width="1"/>
<text class="yl" transform="translate(482.9,675.8) rotate(-90)">0.10</text>
<line x1="487.2" y1="652.75" x2="490.2" y2="652.75" stroke="#555" stroke-width="1"/>
<text class="yl" transform="translate(482.9,652.75) rotate(-90)">0.15</text>
<line x1="487.2" y1="629.7" x2="490.2" y2="629.7" stroke="#555" stroke-width="1"/>
<text class="yl" transform="translate(482.9,629.7) rotate(-90)">0.20</text>
<line x1="487.2" y1="606.65" x2="490.2" y2="606.65" stroke="#555" stroke-width="1"/>
<text class="yl" transform="translate(482.9,606.65) rotate(-90)">0.25</text>
<line x1="487.2" y1="583.6" x2="490.2" y2="583.6" stroke="#555" stroke-width="1"/>
<text class="yl" transform="translate(482.9,583.6) rotate(-90)">0.30</text>
<line x1="487.2" y1="560.55" x2="490.2" y2="560.55" stroke="#555" stroke-width="1"/>
<text class="yl" transform="translate(482.9,560.55) rotate(-90)">0.35</text>
<line x1="487.2" y1="537.5" x2="490.2" y2="537.5" stroke="#555" stroke-width="1"/>
<text class="yl" transform="translate(482.9,537.5) rotate(-90)">0.40</text>
<text class="xt" transform="translate(587.3,751.8) scale(1,1.0)">Between−study variance τ<tspan dy="-3" font-size="4.1">2</tspan></text>
<text class="yt" transform="translate(471.1,629.75) rotate(-90) scale(1,1.08)">MSE of λ</text>
<text x="521.33" y="519.7" font-size="11.3" style="stroke-width:0.35px">μ</text><text x="527.9" y="521.7" font-size="7.5" style="stroke-width:0.35px">C</text><text x="543.5" y="519.7" font-size="10.2" style="stroke-width:0.35px">4</text><text x="551.3" y="519.7" font-size="10.2" style="stroke-width:0.35px">,</text><text x="558" y="519.7" font-size="10.2" style="stroke-width:0.35px">λ</text><text x="573.75" y="519.7" font-size="10.2" style="stroke-width:0.35px">0</text><text x="582.3" y="519.7" font-size="10.2" style="stroke-width:0.35px">,</text><text x="588.1" y="519.7" font-size="10.2" style="stroke-width:0.35px">n</text><path transform="translate(604.7,519.7) scale(10.2,-10.2)" d="M0.335 0L0.25 0L0.25 0.5L0.075 0.5L0.075 0.562C0.19 0.568 0.243 0.6 0.258 0.7L0.335 0.7Z" fill="#111" stroke="#111" stroke-width="0.35" vector-effect="non-scaling-stroke"/><text x="610.37" y="519.7" font-size="10.2" style="stroke-width:0.35px">0</text><text x="618.4" y="519.7" font-size="10.2" style="stroke-width:0.35px">,</text><text x="624.4" y="519.7" font-size="10.2" style="stroke-width:0.35px">K</text><text x="641.9" y="519.7" font-size="10.2" style="stroke-width:0.35px">3</text><text x="647.57" y="519.7" font-size="10.2" style="stroke-width:0.35px">0</text><rect x="535.35" y="516.05" width="5.4" height="0.9" fill="#333"/><rect x="535.35" y="517.95" width="5.4" height="0.9" fill="#333"/><rect x="565.45" y="516.05" width="5.5" height="0.9" fill="#333"/><rect x="565.45" y="517.95" width="5.5" height="0.9" fill="#333"/><rect x="596.35" y="516.05" width="5.4" height="0.9" fill="#333"/><rect x="596.35" y="517.95" width="5.4" height="0.9" fill="#333"/><rect x="634.05" y="516.05" width="5.4" height="0.9" fill="#333"/><rect x="634.05" y="517.95" width="5.4" height="0.9" fill="#333"/>
<line x1="24" y1="978.4" x2="218.8" y2="978.4" stroke="#d0d0dc" stroke-width="1"/>
<polyline points="31.4,969.9 49.41,961 67.42,952.7 85.43,943.2 103.44,934.4 121.45,923 139.46,915 157.47,902.5 175.48,894.7 193.49,881.4 211.5,873.9" fill="none" stroke="#0000ff" stroke-width="1.6" stroke-linejoin="round"/>
<polyline points="31.4,969.9 49.41,961.3 67.42,953.2 85.43,944 103.44,935.8 121.45,925.9 139.46,917.9 157.47,906 175.48,899.1 193.49,886.2 211.5,879.2" fill="none" stroke="#00ffff" stroke-width="1.6" stroke-linejoin="round"/>
<polyline points="31.4,969.9 49.41,961 67.42,952.7 85.43,943.1 103.44,934.2 121.45,922.5 139.46,914.4 157.47,901.7 175.48,893.7 193.49,880.2 211.5,872.3" fill="none" stroke="#000000" stroke-width="1.0" stroke-linejoin="round"/>
<polyline points="31.4,969.9 49.41,961 67.42,952.7 85.43,943.3 103.44,934.6 121.45,923.5 139.46,915.6 157.47,903.7 175.48,896.1 193.49,882.6 211.5,875.3" fill="none" stroke="#a020f0" stroke-width="1.2" stroke-linejoin="round"/>
<polyline points="31.4,967.1 49.41,954 67.42,942.7 85.43,930.4 103.44,918.5 121.45,908.4 139.46,899.1 157.47,889.8 175.48,880.6 193.49,869.9 211.5,862" fill="none" stroke="#ffa500" stroke-width="1.2" stroke-linejoin="round"/>
<path d="M29.9 968.4L32.9 971.4M32.9 968.4L29.9 971.4" stroke="#000" stroke-width="1.0"/>
<path d="M47.91 959.5L50.91 962.5M50.91 959.5L47.91 962.5" stroke="#000" stroke-width="1.0"/>
<path d="M65.92 951.2L68.92 954.2M68.92 951.2L65.92 954.2" stroke="#000" stroke-width="1.0"/>
<path d="M83.93 941.7L86.93 944.7M86.93 941.7L83.93 944.7" stroke="#000" stroke-width="1.0"/>
<path d="M101.94 932.9L104.94 935.9M104.94 932.9L101.94 935.9" stroke="#000" stroke-width="1.0"/>
<path d="M119.95 921.5L122.95 924.5M122.95 921.5L119.95 924.5" stroke="#000" stroke-width="1.0"/>
<path d="M137.96 913.5L140.96 916.5M140.96 913.5L137.96 916.5" stroke="#000" stroke-width="1.0"/>
<path d="M155.97 901L158.97 904M158.97 901L155.97 904" stroke="#000" stroke-width="1.0"/>
<path d="M173.98 893.2L176.98 896.2M176.98 893.2L173.98 896.2" stroke="#000" stroke-width="1.0"/>
<path d="M191.99 879.9L194.99 882.9M194.99 879.9L191.99 882.9" stroke="#000" stroke-width="1.0"/>
<path d="M210 872.4L213 875.4M213 872.4L210 875.4" stroke="#000" stroke-width="1.0"/>
<path d="M31.4 967.6L33.7 969.9L31.4 972.2L29.1 969.9Z" fill="none" stroke="#000" stroke-width="0.9"/>
<path d="M49.41 959L51.71 961.3L49.41 963.6L47.11 961.3Z" fill="none" stroke="#000" stroke-width="0.9"/>
<path d="M67.42 950.9L69.72 953.2L67.42 955.5L65.12 953.2Z" fill="none" stroke="#000" stroke-width="0.9"/>
<path d="M85.43 941.7L87.73 944L85.43 946.3L83.13 944Z" fill="none" stroke="#000" stroke-width="0.9"/>
<path d="M103.44 933.5L105.74 935.8L103.44 938.1L101.14 935.8Z" fill="none" stroke="#000" stroke-width="0.9"/>
<path d="M121.45 923.6L123.75 925.9L121.45 928.2L119.15 925.9Z" fill="none" stroke="#000" stroke-width="0.9"/>
<path d="M139.46 915.6L141.76 917.9L139.46 920.2L137.16 917.9Z" fill="none" stroke="#000" stroke-width="0.9"/>
<path d="M157.47 903.7L159.77 906L157.47 908.3L155.17 906Z" fill="none" stroke="#000" stroke-width="0.9"/>
<path d="M175.48 896.8L177.78 899.1L175.48 901.4L173.18 899.1Z" fill="none" stroke="#000" stroke-width="0.9"/>
<path d="M193.49 883.9L195.79 886.2L193.49 888.5L191.19 886.2Z" fill="none" stroke="#000" stroke-width="0.9"/>
<path d="M211.5 876.9L213.8 879.2L211.5 881.5L209.2 879.2Z" fill="none" stroke="#000" stroke-width="0.9"/>
<circle cx="31.4" cy="969.9" r="0.9" fill="#000"/>
<circle cx="49.41" cy="961" r="0.9" fill="#000"/>
<circle cx="67.42" cy="952.7" r="0.9" fill="#000"/>
<circle cx="85.43" cy="943.1" r="0.9" fill="#000"/>
<circle cx="103.44" cy="934.2" r="0.9" fill="#000"/>
<circle cx="121.45" cy="922.5" r="0.9" fill="#000"/>
<circle cx="139.46" cy="914.4" r="0.9" fill="#000"/>
<circle cx="157.47" cy="901.7" r="0.9" fill="#000"/>
<circle cx="175.48" cy="893.7" r="0.9" fill="#000"/>
<circle cx="193.49" cy="880.2" r="0.9" fill="#000"/>
<circle cx="211.5" cy="872.3" r="0.9" fill="#000"/>
<path d="M29.95 968.45H32.85V971.35H29.95ZM29.95 968.45L32.85 971.35M32.85 968.45L29.95 971.35" fill="none" stroke="#000" stroke-width="0.9"/>
<path d="M47.96 959.55H50.86V962.45H47.96ZM47.96 959.55L50.86 962.45M50.86 959.55L47.96 962.45" fill="none" stroke="#000" stroke-width="0.9"/>
<path d="M65.97 951.25H68.87V954.15H65.97ZM65.97 951.25L68.87 954.15M68.87 951.25L65.97 954.15" fill="none" stroke="#000" stroke-width="0.9"/>
<path d="M83.98 941.85H86.88V944.75H83.98ZM83.98 941.85L86.88 944.75M86.88 941.85L83.98 944.75" fill="none" stroke="#000" stroke-width="0.9"/>
<path d="M101.99 933.15H104.89V936.05H101.99ZM101.99 933.15L104.89 936.05M104.89 933.15L101.99 936.05" fill="none" stroke="#000" stroke-width="0.9"/>
<path d="M120 922.05H122.9V924.95H120ZM120 922.05L122.9 924.95M122.9 922.05L120 924.95" fill="none" stroke="#000" stroke-width="0.9"/>
<path d="M138.01 914.15H140.91V917.05H138.01ZM138.01 914.15L140.91 917.05M140.91 914.15L138.01 917.05" fill="none" stroke="#000" stroke-width="0.9"/>
<path d="M156.02 902.25H158.92V905.15H156.02ZM156.02 902.25L158.92 905.15M158.92 902.25L156.02 905.15" fill="none" stroke="#000" stroke-width="0.9"/>
<path d="M174.03 894.65H176.93V897.55H174.03ZM174.03 894.65L176.93 897.55M176.93 894.65L174.03 897.55" fill="none" stroke="#000" stroke-width="0.9"/>
<path d="M192.04 881.15H194.94V884.05H192.04ZM192.04 881.15L194.94 884.05M194.94 881.15L192.04 884.05" fill="none" stroke="#000" stroke-width="0.9"/>
<path d="M210.05 873.85H212.95V876.75H210.05ZM210.05 873.85L212.95 876.75M212.95 873.85L210.05 876.75" fill="none" stroke="#000" stroke-width="0.9"/>
<circle cx="31.4" cy="967.1" r="1.75" fill="#000"/>
<circle cx="49.41" cy="954" r="1.75" fill="#000"/>
<circle cx="67.42" cy="942.7" r="1.75" fill="#000"/>
<circle cx="85.43" cy="930.4" r="1.75" fill="#000"/>
<circle cx="103.44" cy="918.5" r="1.75" fill="#000"/>
<circle cx="121.45" cy="908.4" r="1.75" fill="#000"/>
<circle cx="139.46" cy="899.1" r="1.75" fill="#000"/>
<circle cx="157.47" cy="889.8" r="1.75" fill="#000"/>
<circle cx="175.48" cy="880.6" r="1.75" fill="#000"/>
<circle cx="193.49" cy="869.9" r="1.75" fill="#000"/>
<circle cx="211.5" cy="862" r="1.75" fill="#000"/>
<path d="M24 786H218.8V985.5H24" fill="none" stroke="#4a4a4a" stroke-width="1.0"/>
<line x1="24" y1="785.5" x2="24" y2="986" stroke="#8a8a8a" stroke-width="1.4"/>
<line x1="31.4" y1="985.5" x2="31.4" y2="988.5" stroke="#333" stroke-width="1"/>
<text class="xl" x="31.4" y="996.6">0.0</text>
<line x1="49.41" y1="985.5" x2="49.41" y2="988.5" stroke="#333" stroke-width="1"/>
<text class="xl" x="49.41" y="996.6">0.1</text>
<line x1="67.42" y1="985.5" x2="67.42" y2="988.5" stroke="#333" stroke-width="1"/>
<text class="xl" x="67.42" y="996.6">0.2</text>
<line x1="85.43" y1="985.5" x2="85.43" y2="988.5" stroke="#333" stroke-width="1"/>
<text class="xl" x="85.43" y="996.6">0.3</text>
<line x1="103.44" y1="985.5" x2="103.44" y2="988.5" stroke="#333" stroke-width="1"/>
<text class="xl" x="103.44" y="996.6">0.4</text>
<line x1="121.45" y1="985.5" x2="121.45" y2="988.5" stroke="#333" stroke-width="1"/>
<text class="xl" x="121.45" y="996.6">0.5</text>
<line x1="139.46" y1="985.5" x2="139.46" y2="988.5" stroke="#333" stroke-width="1"/>
<text class="xl" x="139.46" y="996.6">0.6</text>
<line x1="157.47" y1="985.5" x2="157.47" y2="988.5" stroke="#333" stroke-width="1"/>
<text class="xl" x="157.47" y="996.6">0.7</text>
<line x1="175.48" y1="985.5" x2="175.48" y2="988.5" stroke="#333" stroke-width="1"/>
<text class="xl" x="175.48" y="996.6">0.8</text>
<line x1="193.49" y1="985.5" x2="193.49" y2="988.5" stroke="#333" stroke-width="1"/>
<text class="xl" x="193.49" y="996.6">0.9</text>
<line x1="211.5" y1="985.5" x2="211.5" y2="988.5" stroke="#333" stroke-width="1"/>
<text class="xl" x="211.5" y="996.6">1.0</text>
<line x1="21" y1="978.4" x2="24" y2="978.4" stroke="#555" stroke-width="1"/>
<text class="yl" transform="translate(16.7,978.4) rotate(-90)">0.00</text>
<line x1="21" y1="955.29" x2="24" y2="955.29" stroke="#555" stroke-width="1"/>
<text class="yl" transform="translate(16.7,955.29) rotate(-90)">0.05</text>
<line x1="21" y1="932.17" x2="24" y2="932.17" stroke="#555" stroke-width="1"/>
<text class="yl" transform="translate(16.7,932.17) rotate(-90)">0.10</text>
<line x1="21" y1="909.06" x2="24" y2="909.06" stroke="#555" stroke-width="1"/>
<text class="yl" transform="translate(16.7,909.06) rotate(-90)">0.15</text>
<line x1="21" y1="885.95" x2="24" y2="885.95" stroke="#555" stroke-width="1"/>
<text class="yl" transform="translate(16.7,885.95) rotate(-90)">0.20</text>
<line x1="21" y1="862.84" x2="24" y2="862.84" stroke="#555" stroke-width="1"/>
<text class="yl" transform="translate(16.7,862.84) rotate(-90)">0.25</text>
<line x1="21" y1="839.72" x2="24" y2="839.72" stroke="#555" stroke-width="1"/>
<text class="yl" transform="translate(16.7,839.72) rotate(-90)">0.30</text>
<line x1="21" y1="816.61" x2="24" y2="816.61" stroke="#555" stroke-width="1"/>
<text class="yl" transform="translate(16.7,816.61) rotate(-90)">0.35</text>
<line x1="21" y1="793.5" x2="24" y2="793.5" stroke="#555" stroke-width="1"/>
<text class="yl" transform="translate(16.7,793.5) rotate(-90)">0.40</text>
<text class="xt" transform="translate(121.4,1008.1) scale(1,1.0)">Between−study variance τ<tspan dy="-3" font-size="4.1">2</tspan></text>
<text class="yt" transform="translate(4.9,885.75) rotate(-90) scale(1,1.08)">MSE of λ</text>
<text x="58.23" y="775.7" font-size="11.3" style="stroke-width:0.35px">μ</text><text x="64.8" y="777.7" font-size="7.5" style="stroke-width:0.35px">C</text><path transform="translate(80.4,775.7) scale(10.2,-10.2)" d="M0.335 0L0.25 0L0.25 0.5L0.075 0.5L0.075 0.562C0.19 0.568 0.243 0.6 0.258 0.7L0.335 0.7Z" fill="#111" stroke="#111" stroke-width="0.35" vector-effect="non-scaling-stroke"/><text x="88.2" y="775.7" font-size="10.2" style="stroke-width:0.35px">,</text><text x="94.9" y="775.7" font-size="10.2" style="stroke-width:0.35px">λ</text><text x="110.65" y="775.7" font-size="10.2" style="stroke-width:0.35px">0</text><text x="119.2" y="775.7" font-size="10.2" style="stroke-width:0.35px">,</text><text x="125" y="775.7" font-size="10.2" style="stroke-width:0.35px">n</text><text x="141.6" y="775.7" font-size="10.2" style="stroke-width:0.35px">4</text><text x="147.27" y="775.7" font-size="10.2" style="stroke-width:0.35px">0</text><text x="155.3" y="775.7" font-size="10.2" style="stroke-width:0.35px">,</text><text x="161.3" y="775.7" font-size="10.2" style="stroke-width:0.35px">K</text><text x="178.8" y="775.7" font-size="10.2" style="stroke-width:0.35px">5</text><rect x="72.25" y="772.05" width="5.4" height="0.9" fill="#333"/><rect x="72.25" y="773.95" width="5.4" height="0.9" fill="#333"/><rect x="102.35" y="772.05" width="5.5" height="0.9" fill="#333"/><rect x="102.35" y="773.95" width="5.5" height="0.9" fill="#333"/><rect x="133.25" y="772.05" width="5.4" height="0.9" fill="#333"/><rect x="133.25" y="773.95" width="5.4" height="0.9" fill="#333"/><rect x="170.95" y="772.05" width="5.4" height="0.9" fill="#333"/><rect x="170.95" y="773.95" width="5.4" height="0.9" fill="#333"/>
<line x1="257" y1="978.4" x2="451.8" y2="978.4" stroke="#d0d0dc" stroke-width="1"/>
<polyline points="264.3,973.8 282.31,968.3 300.32,963 318.33,957.4 336.34,951.5 354.35,943.8 372.36,937 390.37,931.2 408.38,923 426.39,916.7 444.4,908.8" fill="none" stroke="#0000ff" stroke-width="1.6" stroke-linejoin="round"/>
<polyline points="264.3,973.8 282.31,968.5 300.32,963.3 318.33,957.8 336.34,952 354.35,944.7 372.36,938.3 390.37,932.8 408.38,924.9 426.39,919.3 444.4,911.5" fill="none" stroke="#00ffff" stroke-width="1.6" stroke-linejoin="round"/>
<polyline points="264.3,973.8 282.31,968.2 300.32,962.8 318.33,957 336.34,951 354.35,943 372.36,935.9 390.37,930 408.38,921.6 426.39,915.2 444.4,907.2" fill="none" stroke="#000000" stroke-width="1.0" stroke-linejoin="round"/>
<polyline points="264.3,973.8 282.31,968.2 300.32,962.8 318.33,957 336.34,951 354.35,943 372.36,935.7 390.37,929.7 408.38,921.2 426.39,914.8 444.4,906.6" fill="none" stroke="#a020f0" stroke-width="1.2" stroke-linejoin="round"/>
<polyline points="264.3,972.3 282.31,965.7 300.32,960.5 318.33,954.8 336.34,948.8 354.35,943 372.36,938 390.37,933.4 408.38,929.4 426.39,924.6 444.4,920.1" fill="none" stroke="#ffa500" stroke-width="1.2" stroke-linejoin="round"/>
<path d="M262.8 972.3L265.8 975.3M265.8 972.3L262.8 975.3" stroke="#000" stroke-width="1.0"/>
<path d="M280.81 966.8L283.81 969.8M283.81 966.8L280.81 969.8" stroke="#000" stroke-width="1.0"/>
<path d="M298.82 961.5L301.82 964.5M301.82 961.5L298.82 964.5" stroke="#000" stroke-width="1.0"/>
<path d="M316.83 955.9L319.83 958.9M319.83 955.9L316.83 958.9" stroke="#000" stroke-width="1.0"/>
<path d="M334.84 950L337.84 953M337.84 950L334.84 953" stroke="#000" stroke-width="1.0"/>
<path d="M352.85 942.3L355.85 945.3M355.85 942.3L352.85 945.3" stroke="#000" stroke-width="1.0"/>
<path d="M370.86 935.5L373.86 938.5M373.86 935.5L370.86 938.5" stroke="#000" stroke-width="1.0"/>
<path d="M388.87 929.7L391.87 932.7M391.87 929.7L388.87 932.7" stroke="#000" stroke-width="1.0"/>
<path d="M406.88 921.5L409.88 924.5M409.88 921.5L406.88 924.5" stroke="#000" stroke-width="1.0"/>
<path d="M424.89 915.2L427.89 918.2M427.89 915.2L424.89 918.2" stroke="#000" stroke-width="1.0"/>
<path d="M442.9 907.3L445.9 910.3M445.9 907.3L442.9 910.3" stroke="#000" stroke-width="1.0"/>
<path d="M264.3 971.5L266.6 973.8L264.3 976.1L262 973.8Z" fill="none" stroke="#000" stroke-width="0.9"/>
<path d="M282.31 966.2L284.61 968.5L282.31 970.8L280.01 968.5Z" fill="none" stroke="#000" stroke-width="0.9"/>
<path d="M300.32 961L302.62 963.3L300.32 965.6L298.02 963.3Z" fill="none" stroke="#000" stroke-width="0.9"/>
<path d="M318.33 955.5L320.63 957.8L318.33 960.1L316.03 957.8Z" fill="none" stroke="#000" stroke-width="0.9"/>
<path d="M336.34 949.7L338.64 952L336.34 954.3L334.04 952Z" fill="none" stroke="#000" stroke-width="0.9"/>
<path d="M354.35 942.4L356.65 944.7L354.35 947L352.05 944.7Z" fill="none" stroke="#000" stroke-width="0.9"/>
<path d="M372.36 936L374.66 938.3L372.36 940.6L370.06 938.3Z" fill="none" stroke="#000" stroke-width="0.9"/>
<path d="M390.37 930.5L392.67 932.8L390.37 935.1L388.07 932.8Z" fill="none" stroke="#000" stroke-width="0.9"/>
<path d="M408.38 922.6L410.68 924.9L408.38 927.2L406.08 924.9Z" fill="none" stroke="#000" stroke-width="0.9"/>
<path d="M426.39 917L428.69 919.3L426.39 921.6L424.09 919.3Z" fill="none" stroke="#000" stroke-width="0.9"/>
<path d="M444.4 909.2L446.7 911.5L444.4 913.8L442.1 911.5Z" fill="none" stroke="#000" stroke-width="0.9"/>
<circle cx="264.3" cy="973.8" r="0.9" fill="#000"/>
<circle cx="282.31" cy="968.2" r="0.9" fill="#000"/>
<circle cx="300.32" cy="962.8" r="0.9" fill="#000"/>
<circle cx="318.33" cy="957" r="0.9" fill="#000"/>
<circle cx="336.34" cy="951" r="0.9" fill="#000"/>
<circle cx="354.35" cy="943" r="0.9" fill="#000"/>
<circle cx="372.36" cy="935.9" r="0.9" fill="#000"/>
<circle cx="390.37" cy="930" r="0.9" fill="#000"/>
<circle cx="408.38" cy="921.6" r="0.9" fill="#000"/>
<circle cx="426.39" cy="915.2" r="0.9" fill="#000"/>
<circle cx="444.4" cy="907.2" r="0.9" fill="#000"/>
<path d="M262.85 972.35H265.75V975.25H262.85ZM262.85 972.35L265.75 975.25M265.75 972.35L262.85 975.25" fill="none" stroke="#000" stroke-width="0.9"/>
<path d="M280.86 966.75H283.76V969.65H280.86ZM280.86 966.75L283.76 969.65M283.76 966.75L280.86 969.65" fill="none" stroke="#000" stroke-width="0.9"/>
<path d="M298.87 961.35H301.77V964.25H298.87ZM298.87 961.35L301.77 964.25M301.77 961.35L298.87 964.25" fill="none" stroke="#000" stroke-width="0.9"/>
<path d="M316.88 955.55H319.78V958.45H316.88ZM316.88 955.55L319.78 958.45M319.78 955.55L316.88 958.45" fill="none" stroke="#000" stroke-width="0.9"/>
<path d="M334.89 949.55H337.79V952.45H334.89ZM334.89 949.55L337.79 952.45M337.79 949.55L334.89 952.45" fill="none" stroke="#000" stroke-width="0.9"/>
<path d="M352.9 941.55H355.8V944.45H352.9ZM352.9 941.55L355.8 944.45M355.8 941.55L352.9 944.45" fill="none" stroke="#000" stroke-width="0.9"/>
<path d="M370.91 934.25H373.81V937.15H370.91ZM370.91 934.25L373.81 937.15M373.81 934.25L370.91 937.15" fill="none" stroke="#000" stroke-width="0.9"/>
<path d="M388.92 928.25H391.82V931.15H388.92ZM388.92 928.25L391.82 931.15M391.82 928.25L388.92 931.15" fill="none" stroke="#000" stroke-width="0.9"/>
<path d="M406.93 919.75H409.83V922.65H406.93ZM406.93 919.75L409.83 922.65M409.83 919.75L406.93 922.65" fill="none" stroke="#000" stroke-width="0.9"/>
<path d="M424.94 913.35H427.84V916.25H424.94ZM424.94 913.35L427.84 916.25M427.84 913.35L424.94 916.25" fill="none" stroke="#000" stroke-width="0.9"/>
<path d="M442.95 905.15H445.85V908.05H442.95ZM442.95 905.15L445.85 908.05M445.85 905.15L442.95 908.05" fill="none" stroke="#000" stroke-width="0.9"/>
<circle cx="264.3" cy="972.3" r="1.75" fill="#000"/>
<circle cx="282.31" cy="965.7" r="1.75" fill="#000"/>
<circle cx="300.32" cy="960.5" r="1.75" fill="#000"/>
<circle cx="318.33" cy="954.8" r="1.75" fill="#000"/>
<circle cx="336.34" cy="948.8" r="1.75" fill="#000"/>
<circle cx="354.35" cy="943" r="1.75" fill="#000"/>
<circle cx="372.36" cy="938" r="1.75" fill="#000"/>
<circle cx="390.37" cy="933.4" r="1.75" fill="#000"/>
<circle cx="408.38" cy="929.4" r="1.75" fill="#000"/>
<circle cx="426.39" cy="924.6" r="1.75" fill="#000"/>
<circle cx="444.4" cy="920.1" r="1.75" fill="#000"/>
<path d="M257 786H451.8V985.5H257" fill="none" stroke="#4a4a4a" stroke-width="1.0"/>
<line x1="257" y1="785.5" x2="257" y2="986" stroke="#8a8a8a" stroke-width="1.4"/>
<line x1="264.3" y1="985.5" x2="264.3" y2="988.5" stroke="#333" stroke-width="1"/>
<text class="xl" x="264.3" y="996.6">0.0</text>
<line x1="282.31" y1="985.5" x2="282.31" y2="988.5" stroke="#333" stroke-width="1"/>
<text class="xl" x="282.31" y="996.6">0.1</text>
<line x1="300.32" y1="985.5" x2="300.32" y2="988.5" stroke="#333" stroke-width="1"/>
<text class="xl" x="300.32" y="996.6">0.2</text>
<line x1="318.33" y1="985.5" x2="318.33" y2="988.5" stroke="#333" stroke-width="1"/>
<text class="xl" x="318.33" y="996.6">0.3</text>
<line x1="336.34" y1="985.5" x2="336.34" y2="988.5" stroke="#333" stroke-width="1"/>
<text class="xl" x="336.34" y="996.6">0.4</text>
<line x1="354.35" y1="985.5" x2="354.35" y2="988.5" stroke="#333" stroke-width="1"/>
<text class="xl" x="354.35" y="996.6">0.5</text>
<line x1="372.36" y1="985.5" x2="372.36" y2="988.5" stroke="#333" stroke-width="1"/>
<text class="xl" x="372.36" y="996.6">0.6</text>
<line x1="390.37" y1="985.5" x2="390.37" y2="988.5" stroke="#333" stroke-width="1"/>
<text class="xl" x="390.37" y="996.6">0.7</text>
<line x1="408.38" y1="985.5" x2="408.38" y2="988.5" stroke="#333" stroke-width="1"/>
<text class="xl" x="408.38" y="996.6">0.8</text>
<line x1="426.39" y1="985.5" x2="426.39" y2="988.5" stroke="#333" stroke-width="1"/>
<text class="xl" x="426.39" y="996.6">0.9</text>
<line x1="444.4" y1="985.5" x2="444.4" y2="988.5" stroke="#333" stroke-width="1"/>
<text class="xl" x="444.4" y="996.6">1.0</text>
<line x1="254" y1="978.4" x2="257" y2="978.4" stroke="#555" stroke-width="1"/>
<text class="yl" transform="translate(249.7,978.4) rotate(-90)">0.00</text>
<line x1="254" y1="955.29" x2="257" y2="955.29" stroke="#555" stroke-width="1"/>
<text class="yl" transform="translate(249.7,955.29) rotate(-90)">0.05</text>
<line x1="254" y1="932.17" x2="257" y2="932.17" stroke="#555" stroke-width="1"/>
<text class="yl" transform="translate(249.7,932.17) rotate(-90)">0.10</text>
<line x1="254" y1="909.06" x2="257" y2="909.06" stroke="#555" stroke-width="1"/>
<text class="yl" transform="translate(249.7,909.06) rotate(-90)">0.15</text>
<line x1="254" y1="885.95" x2="257" y2="885.95" stroke="#555" stroke-width="1"/>
<text class="yl" transform="translate(249.7,885.95) rotate(-90)">0.20</text>
<line x1="254" y1="862.84" x2="257" y2="862.84" stroke="#555" stroke-width="1"/>
<text class="yl" transform="translate(249.7,862.84) rotate(-90)">0.25</text>
<line x1="254" y1="839.72" x2="257" y2="839.72" stroke="#555" stroke-width="1"/>
<text class="yl" transform="translate(249.7,839.72) rotate(-90)">0.30</text>
<line x1="254" y1="816.61" x2="257" y2="816.61" stroke="#555" stroke-width="1"/>
<text class="yl" transform="translate(249.7,816.61) rotate(-90)">0.35</text>
<line x1="254" y1="793.5" x2="257" y2="793.5" stroke="#555" stroke-width="1"/>
<text class="yl" transform="translate(249.7,793.5) rotate(-90)">0.40</text>
<text class="xt" transform="translate(354.4,1008.1) scale(1,1.0)">Between−study variance τ<tspan dy="-3" font-size="4.1">2</tspan></text>
<text class="yt" transform="translate(237.9,885.75) rotate(-90) scale(1,1.08)">MSE of λ</text>
<text x="288.43" y="775.7" font-size="11.3" style="stroke-width:0.35px">μ</text><text x="295" y="777.7" font-size="7.5" style="stroke-width:0.35px">C</text><path transform="translate(310.6,775.7) scale(10.2,-10.2)" d="M0.335 0L0.25 0L0.25 0.5L0.075 0.5L0.075 0.562C0.19 0.568 0.243 0.6 0.258 0.7L0.335 0.7Z" fill="#111" stroke="#111" stroke-width="0.35" vector-effect="non-scaling-stroke"/><text x="318.4" y="775.7" font-size="10.2" style="stroke-width:0.35px">,</text><text x="325.1" y="775.7" font-size="10.2" style="stroke-width:0.35px">λ</text><text x="340.85" y="775.7" font-size="10.2" style="stroke-width:0.35px">0</text><text x="349.4" y="775.7" font-size="10.2" style="stroke-width:0.35px">,</text><text x="355.2" y="775.7" font-size="10.2" style="stroke-width:0.35px">n</text><text x="371.8" y="775.7" font-size="10.2" style="stroke-width:0.35px">4</text><text x="377.47" y="775.7" font-size="10.2" style="stroke-width:0.35px">0</text><text x="385.5" y="775.7" font-size="10.2" style="stroke-width:0.35px">,</text><text x="391.5" y="775.7" font-size="10.2" style="stroke-width:0.35px">K</text><path transform="translate(409,775.7) scale(10.2,-10.2)" d="M0.335 0L0.25 0L0.25 0.5L0.075 0.5L0.075 0.562C0.19 0.568 0.243 0.6 0.258 0.7L0.335 0.7Z" fill="#111" stroke="#111" stroke-width="0.35" vector-effect="non-scaling-stroke"/><text x="414.67" y="775.7" font-size="10.2" style="stroke-width:0.35px">0</text><rect x="302.45" y="772.05" width="5.4" height="0.9" fill="#333"/><rect x="302.45" y="773.95" width="5.4" height="0.9" fill="#333"/><rect x="332.55" y="772.05" width="5.5" height="0.9" fill="#333"/><rect x="332.55" y="773.95" width="5.5" height="0.9" fill="#333"/><rect x="363.45" y="772.05" width="5.4" height="0.9" fill="#333"/><rect x="363.45" y="773.95" width="5.4" height="0.9" fill="#333"/><rect x="401.15" y="772.05" width="5.4" height="0.9" fill="#333"/><rect x="401.15" y="773.95" width="5.4" height="0.9" fill="#333"/>
<line x1="490.2" y1="978.4" x2="684.4" y2="978.4" stroke="#d0d0dc" stroke-width="1"/>
<polyline points="497.4,976.5 515.41,973.3 533.42,969.4 551.43,965.3 569.44,960.9 587.45,955.6 605.46,951.6 623.47,945.9 641.48,940.1 659.49,933.7 677.5,928.7" fill="none" stroke="#0000ff" stroke-width="1.6" stroke-linejoin="round"/>
<polyline points="497.4,976.5 515.41,973.6 533.42,969.9 551.43,966 569.44,961.8 587.45,956.8 605.46,952.4 623.47,947.5 641.48,941.9 659.49,936.4 677.5,931.4" fill="none" stroke="#00ffff" stroke-width="1.6" stroke-linejoin="round"/>
<polyline points="497.4,976.5 515.41,973.3 533.42,969.4 551.43,965.3 569.44,960.9 587.45,955.5 605.46,951.4 623.47,945.6 641.48,939.7 659.49,933.2 677.5,928.1" fill="none" stroke="#000000" stroke-width="1.0" stroke-linejoin="round"/>
<polyline points="497.4,976.5 515.41,973.1 533.42,969 551.43,964.8 569.44,960.3 587.45,955.1 605.46,950.4 623.47,944.4 641.48,938.3 659.49,931.7 677.5,925.9" fill="none" stroke="#a020f0" stroke-width="1.2" stroke-linejoin="round"/>
<polyline points="497.4,976.5 515.41,974.1 533.42,971.9 551.43,970 569.44,968.5 587.45,966.5 605.46,964.9 623.47,963.4 641.48,961.4 659.49,959.7 677.5,958" fill="none" stroke="#ffa500" stroke-width="1.2" stroke-linejoin="round"/>
<path d="M495.9 975L498.9 978M498.9 975L495.9 978" stroke="#000" stroke-width="1.0"/>
<path d="M513.91 971.8L516.91 974.8M516.91 971.8L513.91 974.8" stroke="#000" stroke-width="1.0"/>
<path d="M531.92 967.9L534.92 970.9M534.92 967.9L531.92 970.9" stroke="#000" stroke-width="1.0"/>
<path d="M549.93 963.8L552.93 966.8M552.93 963.8L549.93 966.8" stroke="#000" stroke-width="1.0"/>
<path d="M567.94 959.4L570.94 962.4M570.94 959.4L567.94 962.4" stroke="#000" stroke-width="1.0"/>
<path d="M585.95 954.1L588.95 957.1M588.95 954.1L585.95 957.1" stroke="#000" stroke-width="1.0"/>
<path d="M603.96 950.1L606.96 953.1M606.96 950.1L603.96 953.1" stroke="#000" stroke-width="1.0"/>
<path d="M621.97 944.4L624.97 947.4M624.97 944.4L621.97 947.4" stroke="#000" stroke-width="1.0"/>
<path d="M639.98 938.6L642.98 941.6M642.98 938.6L639.98 941.6" stroke="#000" stroke-width="1.0"/>
<path d="M657.99 932.2L660.99 935.2M660.99 932.2L657.99 935.2" stroke="#000" stroke-width="1.0"/>
<path d="M676 927.2L679 930.2M679 927.2L676 930.2" stroke="#000" stroke-width="1.0"/>
<path d="M497.4 974.2L499.7 976.5L497.4 978.8L495.1 976.5Z" fill="none" stroke="#000" stroke-width="0.9"/>
<path d="M515.41 971.3L517.71 973.6L515.41 975.9L513.11 973.6Z" fill="none" stroke="#000" stroke-width="0.9"/>
<path d="M533.42 967.6L535.72 969.9L533.42 972.2L531.12 969.9Z" fill="none" stroke="#000" stroke-width="0.9"/>
<path d="M551.43 963.7L553.73 966L551.43 968.3L549.13 966Z" fill="none" stroke="#000" stroke-width="0.9"/>
<path d="M569.44 959.5L571.74 961.8L569.44 964.1L567.14 961.8Z" fill="none" stroke="#000" stroke-width="0.9"/>
<path d="M587.45 954.5L589.75 956.8L587.45 959.1L585.15 956.8Z" fill="none" stroke="#000" stroke-width="0.9"/>
<path d="M605.46 950.1L607.76 952.4L605.46 954.7L603.16 952.4Z" fill="none" stroke="#000" stroke-width="0.9"/>
<path d="M623.47 945.2L625.77 947.5L623.47 949.8L621.17 947.5Z" fill="none" stroke="#000" stroke-width="0.9"/>
<path d="M641.48 939.6L643.78 941.9L641.48 944.2L639.18 941.9Z" fill="none" stroke="#000" stroke-width="0.9"/>
<path d="M659.49 934.1L661.79 936.4L659.49 938.7L657.19 936.4Z" fill="none" stroke="#000" stroke-width="0.9"/>
<path d="M677.5 929.1L679.8 931.4L677.5 933.7L675.2 931.4Z" fill="none" stroke="#000" stroke-width="0.9"/>
<circle cx="497.4" cy="976.5" r="0.9" fill="#000"/>
<circle cx="515.41" cy="973.3" r="0.9" fill="#000"/>
<circle cx="533.42" cy="969.4" r="0.9" fill="#000"/>
<circle cx="551.43" cy="965.3" r="0.9" fill="#000"/>
<circle cx="569.44" cy="960.9" r="0.9" fill="#000"/>
<circle cx="587.45" cy="955.5" r="0.9" fill="#000"/>
<circle cx="605.46" cy="951.4" r="0.9" fill="#000"/>
<circle cx="623.47" cy="945.6" r="0.9" fill="#000"/>
<circle cx="641.48" cy="939.7" r="0.9" fill="#000"/>
<circle cx="659.49" cy="933.2" r="0.9" fill="#000"/>
<circle cx="677.5" cy="928.1" r="0.9" fill="#000"/>
<path d="M495.95 975.05H498.85V977.95H495.95ZM495.95 975.05L498.85 977.95M498.85 975.05L495.95 977.95" fill="none" stroke="#000" stroke-width="0.9"/>
<path d="M513.96 971.65H516.86V974.55H513.96ZM513.96 971.65L516.86 974.55M516.86 971.65L513.96 974.55" fill="none" stroke="#000" stroke-width="0.9"/>
<path d="M531.97 967.55H534.87V970.45H531.97ZM531.97 967.55L534.87 970.45M534.87 967.55L531.97 970.45" fill="none" stroke="#000" stroke-width="0.9"/>
<path d="M549.98 963.35H552.88V966.25H549.98ZM549.98 963.35L552.88 966.25M552.88 963.35L549.98 966.25" fill="none" stroke="#000" stroke-width="0.9"/>
<path d="M567.99 958.85H570.89V961.75H567.99ZM567.99 958.85L570.89 961.75M570.89 958.85L567.99 961.75" fill="none" stroke="#000" stroke-width="0.9"/>
<path d="M586 953.65H588.9V956.55H586ZM586 953.65L588.9 956.55M588.9 953.65L586 956.55" fill="none" stroke="#000" stroke-width="0.9"/>
<path d="M604.01 948.95H606.91V951.85H604.01ZM604.01 948.95L606.91 951.85M606.91 948.95L604.01 951.85" fill="none" stroke="#000" stroke-width="0.9"/>
<path d="M622.02 942.95H624.92V945.85H622.02ZM622.02 942.95L624.92 945.85M624.92 942.95L622.02 945.85" fill="none" stroke="#000" stroke-width="0.9"/>
<path d="M640.03 936.85H642.93V939.75H640.03ZM640.03 936.85L642.93 939.75M642.93 936.85L640.03 939.75" fill="none" stroke="#000" stroke-width="0.9"/>
<path d="M658.04 930.25H660.94V933.15H658.04ZM658.04 930.25L660.94 933.15M660.94 930.25L658.04 933.15" fill="none" stroke="#000" stroke-width="0.9"/>
<path d="M676.05 924.45H678.95V927.35H676.05ZM676.05 924.45L678.95 927.35M678.95 924.45L676.05 927.35" fill="none" stroke="#000" stroke-width="0.9"/>
<circle cx="497.4" cy="976.5" r="1.75" fill="#000"/>
<circle cx="515.41" cy="974.1" r="1.75" fill="#000"/>
<circle cx="533.42" cy="971.9" r="1.75" fill="#000"/>
<circle cx="551.43" cy="970" r="1.75" fill="#000"/>
<circle cx="569.44" cy="968.5" r="1.75" fill="#000"/>
<circle cx="587.45" cy="966.5" r="1.75" fill="#000"/>
<circle cx="605.46" cy="964.9" r="1.75" fill="#000"/>
<circle cx="623.47" cy="963.4" r="1.75" fill="#000"/>
<circle cx="641.48" cy="961.4" r="1.75" fill="#000"/>
<circle cx="659.49" cy="959.7" r="1.75" fill="#000"/>
<circle cx="677.5" cy="958" r="1.75" fill="#000"/>
<path d="M490.2 786H684.4V985.5H490.2" fill="none" stroke="#4a4a4a" stroke-width="1.0"/>
<line x1="490.2" y1="785.5" x2="490.2" y2="986" stroke="#8a8a8a" stroke-width="1.4"/>
<line x1="497.4" y1="985.5" x2="497.4" y2="988.5" stroke="#333" stroke-width="1"/>
<text class="xl" x="497.4" y="996.6">0.0</text>
<line x1="515.41" y1="985.5" x2="515.41" y2="988.5" stroke="#333" stroke-width="1"/>
<text class="xl" x="515.41" y="996.6">0.1</text>
<line x1="533.42" y1="985.5" x2="533.42" y2="988.5" stroke="#333" stroke-width="1"/>
<text class="xl" x="533.42" y="996.6">0.2</text>
<line x1="551.43" y1="985.5" x2="551.43" y2="988.5" stroke="#333" stroke-width="1"/>
<text class="xl" x="551.43" y="996.6">0.3</text>
<line x1="569.44" y1="985.5" x2="569.44" y2="988.5" stroke="#333" stroke-width="1"/>
<text class="xl" x="569.44" y="996.6">0.4</text>
<line x1="587.45" y1="985.5" x2="587.45" y2="988.5" stroke="#333" stroke-width="1"/>
<text class="xl" x="587.45" y="996.6">0.5</text>
<line x1="605.46" y1="985.5" x2="605.46" y2="988.5" stroke="#333" stroke-width="1"/>
<text class="xl" x="605.46" y="996.6">0.6</text>
<line x1="623.47" y1="985.5" x2="623.47" y2="988.5" stroke="#333" stroke-width="1"/>
<text class="xl" x="623.47" y="996.6">0.7</text>
<line x1="641.48" y1="985.5" x2="641.48" y2="988.5" stroke="#333" stroke-width="1"/>
<text class="xl" x="641.48" y="996.6">0.8</text>
<line x1="659.49" y1="985.5" x2="659.49" y2="988.5" stroke="#333" stroke-width="1"/>
<text class="xl" x="659.49" y="996.6">0.9</text>
<line x1="677.5" y1="985.5" x2="677.5" y2="988.5" stroke="#333" stroke-width="1"/>
<text class="xl" x="677.5" y="996.6">1.0</text>
<line x1="487.2" y1="978.4" x2="490.2" y2="978.4" stroke="#555" stroke-width="1"/>
<text class="yl" transform="translate(482.9,978.4) rotate(-90)">0.00</text>
<line x1="487.2" y1="955.29" x2="490.2" y2="955.29" stroke="#555" stroke-width="1"/>
<text class="yl" transform="translate(482.9,955.29) rotate(-90)">0.05</text>
<line x1="487.2" y1="932.17" x2="490.2" y2="932.17" stroke="#555" stroke-width="1"/>
<text class="yl" transform="translate(482.9,932.17) rotate(-90)">0.10</text>
<line x1="487.2" y1="909.06" x2="490.2" y2="909.06" stroke="#555" stroke-width="1"/>
<text class="yl" transform="translate(482.9,909.06) rotate(-90)">0.15</text>
<line x1="487.2" y1="885.95" x2="490.2" y2="885.95" stroke="#555" stroke-width="1"/>
<text class="yl" transform="translate(482.9,885.95) rotate(-90)">0.20</text>
<line x1="487.2" y1="862.84" x2="490.2" y2="862.84" stroke="#555" stroke-width="1"/>
<text class="yl" transform="translate(482.9,862.84) rotate(-90)">0.25</text>
<line x1="487.2" y1="839.72" x2="490.2" y2="839.72" stroke="#555" stroke-width="1"/>
<text class="yl" transform="translate(482.9,839.72) rotate(-90)">0.30</text>
<line x1="487.2" y1="816.61" x2="490.2" y2="816.61" stroke="#555" stroke-width="1"/>
<text class="yl" transform="translate(482.9,816.61) rotate(-90)">0.35</text>
<line x1="487.2" y1="793.5" x2="490.2" y2="793.5" stroke="#555" stroke-width="1"/>
<text class="yl" transform="translate(482.9,793.5) rotate(-90)">0.40</text>
<text class="xt" transform="translate(587.3,1008.1) scale(1,1.0)">Between−study variance τ<tspan dy="-3" font-size="4.1">2</tspan></text>
<text class="yt" transform="translate(471.1,885.75) rotate(-90) scale(1,1.08)">MSE of λ</text>
<text x="521.33" y="775.7" font-size="11.3" style="stroke-width:0.35px">μ</text><text x="527.9" y="777.7" font-size="7.5" style="stroke-width:0.35px">C</text><path transform="translate(543.5,775.7) scale(10.2,-10.2)" d="M0.335 0L0.25 0L0.25 0.5L0.075 0.5L0.075 0.562C0.19 0.568 0.243 0.6 0.258 0.7L0.335 0.7Z" fill="#111" stroke="#111" stroke-width="0.35" vector-effect="non-scaling-stroke"/><text x="551.3" y="775.7" font-size="10.2" style="stroke-width:0.35px">,</text><text x="558" y="775.7" font-size="10.2" style="stroke-width:0.35px">λ</text><text x="573.75" y="775.7" font-size="10.2" style="stroke-width:0.35px">0</text><text x="582.3" y="775.7" font-size="10.2" style="stroke-width:0.35px">,</text><text x="588.1" y="775.7" font-size="10.2" style="stroke-width:0.35px">n</text><text x="604.7" y="775.7" font-size="10.2" style="stroke-width:0.35px">4</text><text x="610.37" y="775.7" font-size="10.2" style="stroke-width:0.35px">0</text><text x="618.4" y="775.7" font-size="10.2" style="stroke-width:0.35px">,</text><text x="624.4" y="775.7" font-size="10.2" style="stroke-width:0.35px">K</text><text x="641.9" y="775.7" font-size="10.2" style="stroke-width:0.35px">3</text><text x="647.57" y="775.7" font-size="10.2" style="stroke-width:0.35px">0</text><rect x="535.35" y="772.05" width="5.4" height="0.9" fill="#333"/><rect x="535.35" y="773.95" width="5.4" height="0.9" fill="#333"/><rect x="565.45" y="772.05" width="5.5" height="0.9" fill="#333"/><rect x="565.45" y="773.95" width="5.5" height="0.9" fill="#333"/><rect x="596.35" y="772.05" width="5.4" height="0.9" fill="#333"/><rect x="596.35" y="773.95" width="5.4" height="0.9" fill="#333"/><rect x="634.05" y="772.05" width="5.4" height="0.9" fill="#333"/><rect x="634.05" y="773.95" width="5.4" height="0.9" fill="#333"/>
<rect x="264.4" y="373.5" width="35.2" height="40.5" fill="#fff" stroke="#444" stroke-width="0.9"/>
<line x1="265.3" y1="380.35" x2="276.6" y2="380.35" stroke="#000000" stroke-width="1.0"/>
<circle cx="270.9" cy="380.35" r="1.1" fill="#000"/>
<text class="lg" transform="translate(281.02,383.25) scale(1,1.15)">DL</text>
<line x1="265.3" y1="386.95" x2="276.6" y2="386.95" stroke="#0000ff" stroke-width="1.5"/>
<rect x="269.4" y="385.45" width="3" height="3" fill="#0000ff"/>
<path d="M269.4 385.15L272.4 388.75M272.4 385.15L269.4 388.75" stroke="#0000ff" stroke-width="0.8"/>
<text class="lg" transform="translate(281.02,389.85) scale(1,1.15)">REML</text>
<line x1="265.3" y1="393.55" x2="276.6" y2="393.55" stroke="#00ffff" stroke-width="1.5"/>
<path d="M270.9 391.25L272.85 393.55L270.9 395.85L268.94 393.55Z" fill="#00ffff"/>
<text class="lg" transform="translate(281.02,396.45) scale(1,1.15)">MP</text>
<line x1="265.3" y1="400.5" x2="276.6" y2="400.5" stroke="#a020f0" stroke-width="1.3"/>
<ellipse cx="270.9" cy="400.5" rx="1.95" ry="2.1" fill="#a020f0"/>
<text class="lg" transform="translate(281.38,403.4) scale(1,1.15)">J</text>
<line x1="265.3" y1="407.3" x2="276.6" y2="407.3" stroke="#ffa500" stroke-width="1.3"/>
<circle cx="270.9" cy="407.3" r="1.75" fill="#ffa500"/>
<text class="lg" transform="translate(281.24,410.2) scale(1,1.15)">SSW</text>
</svg>
</body></html>
